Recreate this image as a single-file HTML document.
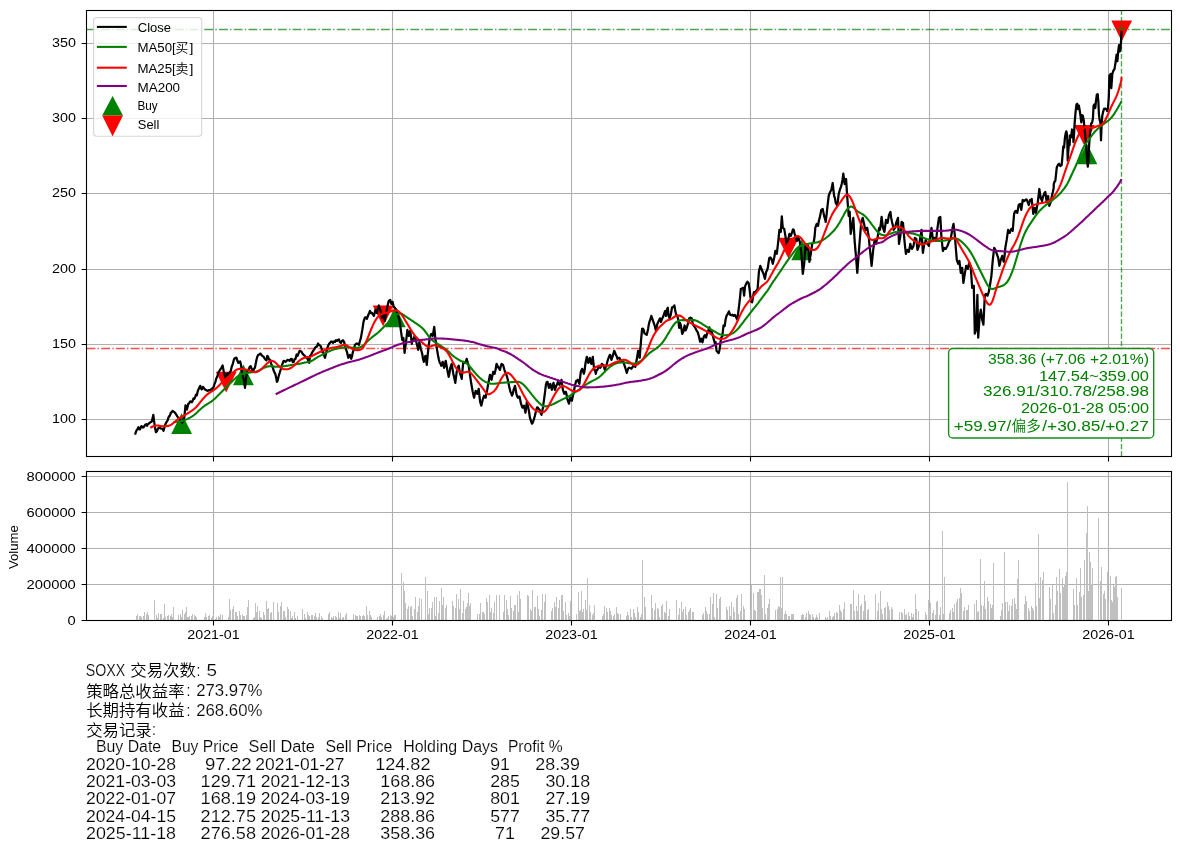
<!DOCTYPE html>
<html><head><meta charset="utf-8"><title>SOXX</title>
<style>html,body{margin:0;padding:0;background:#fff;}svg text.l{stroke:#fff;stroke-width:0.16px;}svg{display:block;will-change:transform;font-family:'Liberation Sans','Noto Sans CJK SC',sans-serif;}</style>
</head><body>
<svg width="1180" height="852" viewBox="0 0 1180 852">
<rect width="1180" height="852" fill="#fff"/>
<defs><clipPath id="c1"><rect x="86.5" y="10.5" width="1085.0" height="446.0"/></clipPath>
<clipPath id="c2"><rect x="86.5" y="471.5" width="1085.0" height="149.0"/></clipPath></defs>
<path d="M213.5,10.5 V456.5 M392.5,10.5 V456.5 M571.5,10.5 V456.5 M750.5,10.5 V456.5 M929.5,10.5 V456.5 M1108.5,10.5 V456.5 M86.5,419.5 H1171.5 M86.5,344.5 H1171.5 M86.5,269.5 H1171.5 M86.5,193.5 H1171.5 M86.5,118.5 H1171.5 M86.5,43.5 H1171.5" stroke="#b0b0b0" stroke-width="1.1" fill="none"/>
<g clip-path="url(#c1)">
<path d="M181.6,413.3 L171.2,434.1 L192.0,434.1 Z" fill="#008000"/>
<path d="M243.4,364.4 L233.0,385.2 L253.8,385.2 Z" fill="#008000"/>
<path d="M395.3,306.5 L384.9,327.3 L405.7,327.3 Z" fill="#008000"/>
<path d="M801.7,239.5 L791.3,260.3 L812.1,260.3 Z" fill="#008000"/>
<path d="M1086.9,143.5 L1076.5,164.3 L1097.3,164.3 Z" fill="#008000"/>
<path d="M226.2,392.6 L215.8,371.8 L236.6,371.8 Z" fill="#ff0000"/>
<path d="M383.1,326.3 L372.7,305.5 L393.5,305.5 Z" fill="#ff0000"/>
<path d="M788.4,258.6 L778.0,237.8 L798.8,237.8 Z" fill="#ff0000"/>
<path d="M1084.5,145.9 L1074.1,125.1 L1094.9,125.1 Z" fill="#ff0000"/>
<path d="M1121.7,41.3 L1111.3,20.5 L1132.1,20.5 Z" fill="#ff0000"/>
<path d="M86.5,29.5 H1171.5" stroke="#008000" stroke-opacity="0.7" stroke-width="1.39" stroke-dasharray="8.89 2.22 1.39 2.22" fill="none"/>
<path d="M86.5,348.5 H1171.5" stroke="#ff0000" stroke-opacity="0.7" stroke-width="1.39" stroke-dasharray="8.89 2.22 1.39 2.22" fill="none"/>
<path d="M1121.5,456.5 V10.5" stroke="#008000" stroke-opacity="0.7" stroke-width="1.39" stroke-dasharray="5.14 2.22" fill="none"/>
<path d="M135.0,434.7 L136.4,430.7 L137.4,429.1 L138.4,427.3 L139.2,429.3 L140.0,429.3 L140.8,427.0 L141.6,426.1 L142.6,427.5 L143.6,427.3 L144.6,425.7 L145.5,424.5 L146.3,424.2 L147.1,425.8 L147.9,424.1 L148.9,423.5 L149.9,422.7 L150.9,422.0 L151.9,421.3 L153.3,414.9 L154.3,422.7 L155.1,428.0 L155.9,432.1 L156.9,431.3 L157.9,428.7 L158.7,428.0 L159.5,427.3 L160.5,428.5 L161.5,428.7 L162.5,428.9 L163.5,430.7 L164.5,427.1 L165.5,424.1 L166.5,422.1 L167.5,420.7 L168.3,418.0 L169.1,416.2 L169.9,415.7 L170.8,412.8 L171.6,412.3 L172.5,410.9 L173.4,411.4 L174.3,412.1 L175.3,413.2 L176.3,414.7 L177.3,416.3 L178.3,417.7 L179.3,418.2 L180.3,420.7 L181.3,421.7 L182.3,422.7 L183.3,420.4 L184.3,417.7 L185.5,405.3 L186.9,409.7 L188.3,403.8 L189.1,403.4 L189.9,401.8 L190.9,401.3 L191.9,402.2 L192.7,400.7 L193.5,398.3 L194.3,398.8 L195.1,397.2 L196.0,394.7 L196.8,395.4 L197.8,390.9 L198.8,388.8 L200.2,385.8 L201.0,388.5 L201.8,389.4 L202.8,386.8 L203.8,387.8 L204.8,389.4 L205.8,389.8 L206.8,390.5 L207.8,390.8 L208.6,390.2 L209.3,390.4 L210.1,390.2 L210.8,389.4 L211.7,389.7 L212.5,388.1 L213.4,387.8 L214.4,384.3 L215.4,381.8 L216.4,378.3 L217.4,375.8 L218.4,372.5 L219.4,370.8 L220.4,369.3 L221.4,367.8 L222.6,365.4 L223.8,371.8 L224.6,374.2 L225.4,377.8 L226.2,376.7 L227.0,373.8 L227.9,373.3 L228.8,375.8 L229.8,372.4 L230.8,370.8 L231.8,366.6 L232.8,363.8 L234.2,358.8 L235.4,357.8 L236.4,357.7 L237.4,360.8 L238.4,362.9 L239.4,361.8 L240.2,361.4 L241.0,364.8 L242.2,373.8 L243.0,376.6 L243.8,379.8 L245.0,387.8 L246.1,377.8 L246.9,373.4 L247.7,369.8 L248.7,369.6 L249.7,366.8 L250.7,366.2 L251.7,368.8 L252.5,370.7 L253.3,370.8 L254.1,368.7 L254.9,367.8 L255.7,363.7 L256.5,359.8 L257.3,356.8 L258.1,354.9 L258.9,354.9 L259.7,353.9 L260.7,353.7 L261.7,355.4 L262.7,356.1 L263.7,356.8 L264.7,358.6 L265.7,359.8 L266.5,360.3 L267.3,355.9 L268.1,356.8 L269.1,359.6 L270.1,359.8 L271.1,363.6 L272.1,365.8 L272.9,367.9 L273.7,370.8 L274.5,372.6 L275.3,373.8 L276.1,377.4 L276.9,381.8 L277.7,380.6 L278.5,376.8 L279.7,372.8 L280.7,369.5 L281.7,365.8 L282.7,363.2 L283.7,360.8 L284.7,361.2 L285.7,361.8 L286.7,360.7 L287.7,359.8 L288.7,360.2 L289.7,360.8 L290.7,359.1 L291.7,358.8 L292.7,362.0 L293.7,361.8 L294.7,358.8 L295.6,358.8 L296.6,354.5 L297.6,355.8 L298.6,353.3 L299.6,350.9 L300.6,351.2 L301.6,351.9 L302.6,353.7 L303.6,354.9 L304.6,355.7 L305.6,356.8 L306.6,357.7 L307.6,358.8 L308.4,361.1 L309.2,362.8 L310.0,355.8 L311.0,355.1 L312.0,352.8 L313.0,351.0 L314.0,349.8 L315.0,348.0 L316.0,346.8 L317.0,346.7 L318.0,343.5 L319.0,344.9 L320.0,345.4 L320.8,346.4 L321.6,348.8 L322.4,352.2 L323.2,351.8 L324.1,355.5 L325.0,357.8 L326.0,353.4 L327.0,349.8 L328.0,345.9 L329.0,343.9 L330.0,342.9 L331.0,341.5 L332.0,341.5 L333.0,342.9 L334.0,341.5 L335.0,341.9 L335.9,340.3 L336.9,340.9 L337.9,339.8 L338.9,339.5 L339.9,342.0 L340.9,342.9 L341.9,341.2 L342.9,340.3 L343.9,341.4 L344.9,344.9 L345.9,348.9 L346.9,351.8 L348.3,357.8 L349.1,356.4 L349.9,354.8 L351.3,358.8 L352.1,356.0 L352.9,351.8 L353.9,349.3 L354.9,344.9 L355.9,344.0 L356.9,343.5 L357.9,344.0 L358.9,344.9 L359.9,341.3 L360.9,337.9 L362.3,329.9 L363.5,321.9 L364.9,317.5 L365.9,317.3 L366.9,318.9 L368.3,314.9 L369.1,313.4 L369.9,310.9 L370.9,313.0 L371.9,312.9 L372.9,314.6 L373.9,315.9 L374.7,312.7 L375.5,309.9 L376.9,312.9 L377.9,309.0 L378.9,305.5 L380.3,309.9 L381.1,313.3 L381.9,317.9 L382.7,315.8 L383.5,314.9 L384.9,320.9 L385.8,315.1 L386.8,309.9 L387.8,304.8 L388.8,300.9 L390.2,299.9 L391.4,303.9 L392.6,301.9 L393.8,306.9 L394.6,307.6 L395.4,308.9 L396.4,309.7 L397.4,312.9 L398.4,316.7 L399.4,319.9 L400.8,329.9 L402.2,339.9 L403.4,337.9 L404.6,352.8 L405.8,343.9 L406.6,336.9 L407.4,329.9 L408.8,335.9 L410.2,330.9 L411.0,336.4 L411.8,343.9 L412.6,339.5 L413.4,338.9 L414.8,335.9 L415.8,339.9 L416.8,343.9 L418.2,349.8 L419.4,341.9 L420.8,348.8 L422.2,353.8 L423.0,358.7 L423.8,361.8 L424.6,358.2 L425.4,355.8 L426.8,364.8 L428.2,349.8 L429.0,343.5 L429.8,337.9 L430.6,335.4 L431.4,333.9 L432.8,335.9 L434.2,326.9 L435.3,337.9 L436.7,347.8 L438.1,355.8 L438.9,359.8 L439.7,362.8 L440.5,363.6 L441.3,365.8 L442.7,361.8 L444.1,367.8 L444.9,365.1 L445.7,360.8 L446.5,365.1 L447.3,369.8 L448.7,376.8 L449.5,373.0 L450.3,367.8 L451.7,363.8 L452.5,368.8 L453.3,373.8 L454.3,378.1 L455.3,382.8 L456.7,371.8 L457.7,367.6 L458.7,365.8 L460.1,373.8 L460.9,375.7 L461.7,378.8 L462.5,370.1 L463.3,361.8 L464.3,362.8 L465.3,362.8 L466.7,358.8 L467.7,362.5 L468.7,365.8 L470.1,375.8 L471.3,383.8 L472.7,391.8 L474.1,397.7 L474.9,393.7 L475.7,390.8 L476.5,392.6 L477.3,393.8 L478.7,388.8 L480.1,401.7 L481.3,405.7 L482.7,399.7 L484.1,395.7 L484.9,397.5 L485.6,397.7 L486.4,393.6 L487.2,389.8 L488.6,381.8 L490.0,374.8 L490.8,376.9 L491.6,379.8 L492.4,375.5 L493.2,371.8 L494.6,373.8 L495.6,369.5 L496.6,363.8 L497.6,366.2 L498.6,367.8 L500.0,369.8 L500.8,366.1 L501.6,363.8 L503.0,364.8 L504.4,369.8 L505.2,372.1 L506.0,373.8 L506.8,375.9 L507.6,378.8 L509.0,385.8 L510.4,391.8 L511.2,393.2 L512.0,395.7 L512.8,393.7 L513.6,389.8 L515.0,385.8 L516.4,393.8 L517.2,396.4 L518.0,397.7 L518.8,396.7 L519.6,396.7 L521.0,403.7 L522.4,407.7 L523.2,406.8 L524.0,405.7 L524.8,409.6 L525.5,412.7 L526.9,401.7 L528.3,407.7 L529.1,412.2 L529.9,417.7 L530.9,420.6 L531.9,423.7 L532.7,422.7 L533.5,420.7 L534.9,415.7 L536.3,409.7 L537.1,407.3 L537.9,407.7 L538.7,409.0 L539.5,409.7 L540.5,412.8 L541.5,414.7 L542.9,407.7 L544.3,397.7 L545.1,391.7 L545.9,384.8 L546.7,382.2 L547.5,381.8 L548.9,387.8 L550.3,383.8 L551.1,387.0 L551.9,389.8 L552.7,385.6 L553.5,382.8 L554.9,389.8 L556.3,385.8 L557.1,384.2 L557.9,381.8 L558.7,383.8 L559.5,384.8 L560.5,382.4 L561.5,379.8 L562.9,389.8 L564.3,393.8 L565.1,392.1 L565.9,391.8 L566.7,395.3 L567.5,399.7 L568.9,403.7 L570.3,397.7 L571.1,399.9 L571.9,400.7 L572.7,396.5 L573.5,393.8 L574.9,385.8 L576.2,380.8 L577.0,380.7 L577.8,379.8 L578.6,382.2 L579.4,383.8 L580.8,371.8 L582.2,368.8 L583.0,371.1 L583.8,373.8 L584.6,370.7 L585.4,363.8 L586.8,356.8 L588.2,362.8 L589.0,360.4 L589.8,357.8 L590.6,362.5 L591.4,363.8 L592.8,356.8 L594.2,369.8 L595.0,370.2 L595.8,373.8 L596.6,370.0 L597.4,369.8 L598.8,365.8 L600.2,367.8 L601.0,366.6 L601.8,363.8 L602.6,364.8 L603.4,364.8 L604.8,369.8 L605.8,366.6 L606.8,363.8 L608.2,358.8 L609.0,356.8 L609.8,354.8 L610.6,355.8 L611.4,359.8 L612.8,355.8 L614.2,350.8 L615.0,352.3 L615.8,354.8 L616.6,356.0 L617.4,358.8 L618.4,358.1 L619.4,357.8 L620.4,360.0 L621.4,360.8 L622.4,361.4 L623.4,361.8 L624.4,365.1 L625.3,367.8 L626.7,372.8 L628.1,368.8 L628.9,367.7 L629.7,367.8 L630.5,368.0 L631.3,368.8 L632.3,367.4 L633.3,365.8 L634.3,366.1 L635.3,366.8 L636.7,359.8 L638.1,350.8 L638.9,355.3 L639.7,357.8 L640.9,341.9 L642.1,328.9 L642.9,328.7 L643.7,329.9 L644.5,333.4 L645.3,333.9 L646.7,334.9 L648.1,328.9 L648.9,324.1 L649.7,320.9 L650.5,319.3 L651.3,315.9 L652.7,319.9 L654.1,323.9 L654.9,326.3 L655.7,329.9 L656.5,328.2 L657.3,323.9 L658.7,320.9 L660.0,318.3 L661.0,321.9 L661.8,319.5 L663.0,317.1 L664.2,313.5 L665.0,311.1 L666.0,315.9 L666.9,309.3 L667.8,307.8 L668.6,315.9 L669.6,318.3 L670.8,314.7 L672.0,307.5 L673.2,306.9 L674.4,305.4 L675.3,311.1 L676.2,314.7 L677.4,315.9 L678.2,319.5 L679.2,327.9 L680.1,323.1 L681.0,326.1 L682.2,333.9 L683.4,331.5 L684.6,325.5 L685.7,330.3 L686.9,327.3 L688.1,323.1 L689.3,318.3 L690.5,317.7 L691.7,318.3 L692.9,324.3 L694.1,326.1 L695.3,327.9 L696.5,330.3 L697.7,332.1 L698.9,336.3 L700.1,341.7 L701.3,338.7 L702.5,342.3 L703.7,336.9 L704.9,335.1 L706.1,337.5 L707.3,332.7 L708.5,330.3 L709.3,327.3 L710.3,331.5 L711.5,330.9 L712.7,335.1 L713.9,339.9 L714.9,343.5 L715.7,342.3 L716.5,350.7 L717.5,351.9 L718.7,353.1 L719.6,349.5 L720.5,342.3 L721.3,337.5 L722.3,336.3 L723.5,325.5 L724.7,326.1 L725.6,319.5 L726.5,315.9 L727.7,314.1 L728.9,311.4 L730.1,314.7 L731.3,315.3 L732.5,314.7 L733.7,315.9 L734.9,315.0 L736.0,317.1 L737.2,319.5 L738.1,313.5 L739.0,306.3 L740.0,298.0 L740.8,289.0 L742.0,288.4 L743.2,287.8 L744.1,295.6 L745.0,286.6 L746.2,283.6 L747.4,281.8 L748.6,283.0 L749.6,289.6 L750.4,296.8 L751.3,301.6 L752.2,302.2 L753.2,295.6 L754.0,292.0 L755.2,292.0 L756.4,290.8 L757.6,289.0 L758.9,271.8 L760.3,265.8 L761.1,267.9 L761.9,269.8 L762.7,272.1 L763.5,273.8 L764.9,278.8 L766.2,271.8 L767.0,270.4 L767.8,267.8 L768.6,262.3 L769.4,257.8 L770.4,257.5 L771.4,258.8 L772.8,263.8 L774.2,257.8 L775.4,250.8 L776.8,253.8 L778.2,241.9 L779.4,229.9 L780.8,231.9 L781.8,216.3 L782.8,227.9 L784.2,228.9 L785.4,235.9 L786.8,245.8 L788.2,239.9 L789.4,233.9 L790.8,235.9 L792.2,231.9 L793.0,229.3 L793.8,229.9 L794.6,233.9 L795.4,235.9 L796.8,240.9 L798.2,237.9 L799.0,239.3 L799.8,241.9 L800.6,247.4 L801.4,253.8 L802.8,273.8 L804.2,263.8 L805.4,245.8 L806.8,249.8 L808.2,245.8 L809.4,261.8 L810.8,253.8 L812.2,243.9 L813.0,242.8 L813.8,241.9 L814.6,236.5 L815.3,227.9 L816.7,223.9 L818.1,225.9 L818.9,220.5 L819.7,217.9 L820.5,214.1 L821.3,209.9 L822.7,208.9 L824.1,215.9 L824.9,218.6 L825.7,221.9 L826.5,215.3 L827.3,207.9 L828.7,195.9 L830.1,192.0 L831.3,190.0 L832.7,183.0 L834.1,195.9 L834.9,198.0 L835.7,202.9 L836.5,204.1 L837.3,205.9 L838.7,194.0 L840.1,189.0 L840.9,187.1 L841.7,184.0 L842.5,180.0 L843.3,173.6 L844.7,184.0 L846.1,179.0 L847.3,197.9 L848.7,215.9 L849.7,211.9 L850.7,233.9 L852.1,225.9 L853.3,217.9 L854.7,241.9 L856.1,257.8 L857.3,272.8 L858.7,253.8 L860.1,235.9 L861.3,221.9 L862.7,217.9 L864.1,223.9 L864.9,228.2 L865.6,229.9 L866.4,228.2 L867.2,227.9 L868.6,235.9 L870.0,249.8 L870.8,257.9 L871.6,265.8 L872.4,257.7 L873.2,249.8 L874.6,239.9 L876.0,243.9 L876.8,239.8 L877.6,237.9 L878.4,231.7 L879.2,227.9 L880.0,229.9 L880.8,224.0 L881.6,216.9 L883.0,227.9 L884.4,231.9 L885.2,226.1 L886.0,219.9 L886.8,221.3 L887.6,222.9 L889.0,214.9 L890.4,211.9 L891.2,217.9 L892.0,221.9 L892.8,225.1 L893.6,229.9 L895.0,227.9 L896.4,221.9 L897.2,220.3 L898.0,217.9 L899.0,243.9 L900.4,235.9 L901.6,221.9 L903.0,222.9 L904.4,239.9 L905.1,246.9 L905.9,253.9 L906.7,251.8 L907.5,249.9 L908.9,251.9 L910.3,243.9 L911.1,246.8 L911.9,248.9 L912.7,247.5 L913.5,245.9 L914.9,237.9 L916.3,238.9 L917.5,249.9 L918.9,245.9 L919.9,239.9 L920.7,235.1 L921.5,229.9 L922.9,252.9 L924.3,243.9 L925.1,242.1 L925.9,239.9 L926.7,243.4 L927.5,243.9 L928.9,245.9 L930.3,235.9 L931.5,227.9 L932.9,239.9 L934.3,237.9 L935.1,239.1 L935.9,240.9 L936.7,235.2 L937.5,227.9 L938.9,217.9 L940.3,216.9 L941.5,237.9 L942.9,250.9 L944.3,247.9 L945.1,248.8 L945.9,248.9 L946.7,247.1 L947.5,245.9 L948.9,241.9 L950.3,239.9 L951.1,236.5 L951.9,231.9 L952.7,227.2 L953.5,223.9 L954.9,235.9 L955.8,247.9 L956.8,259.8 L958.2,263.8 L959.4,260.8 L960.8,272.8 L962.2,267.8 L963.4,282.8 L964.8,273.8 L966.2,265.8 L967.0,268.3 L967.8,268.8 L968.6,265.2 L969.4,262.8 L970.8,267.8 L972.2,287.8 L973.0,286.4 L973.8,285.8 L974.8,333.7 L976.2,329.7 L977.4,294.8 L978.2,337.7 L979.4,319.7 L980.8,309.7 L982.2,319.7 L983.4,324.7 L984.8,295.8 L985.8,293.8 L986.6,295.0 L987.4,295.8 L988.8,291.8 L990.2,283.8 L991.4,275.8 L992.8,259.8 L994.2,247.9 L995.4,249.9 L996.8,253.9 L998.2,257.8 L999.4,265.8 L1000.8,259.8 L1002.2,255.8 L1003.0,259.5 L1003.8,261.8 L1004.6,255.6 L1005.3,247.9 L1006.7,239.9 L1008.1,229.9 L1008.9,232.1 L1009.7,232.9 L1010.5,230.7 L1011.3,228.9 L1012.7,230.9 L1014.1,213.9 L1014.9,211.7 L1015.7,210.9 L1016.5,212.4 L1017.3,212.9 L1018.7,205.0 L1020.1,204.0 L1021.3,209.9 L1022.7,200.0 L1024.1,201.0 L1024.9,200.5 L1025.7,199.6 L1026.5,199.5 L1027.3,201.0 L1028.7,205.0 L1030.1,200.0 L1030.9,200.2 L1031.7,199.0 L1032.5,206.6 L1033.3,213.9 L1034.7,207.9 L1036.1,212.9 L1036.9,207.2 L1037.7,203.0 L1038.5,196.3 L1039.3,189.0 L1040.7,198.0 L1042.1,201.0 L1042.9,196.9 L1043.7,195.0 L1044.5,192.8 L1045.3,192.0 L1046.7,202.0 L1048.1,196.0 L1049.3,205.9 L1050.7,202.0 L1052.1,195.0 L1052.9,191.8 L1053.7,188.0 L1053.7,184.6 L1054.5,181.6 L1055.3,181.0 L1056.1,173.8 L1056.7,167.8 L1057.9,164.9 L1059.1,163.7 L1060.3,166.0 L1061.7,164.9 L1062.7,153.5 L1063.3,146.3 L1064.1,147.5 L1064.9,137.9 L1065.7,133.1 L1066.3,131.3 L1067.2,135.5 L1067.7,160.7 L1068.4,149.9 L1068.9,140.3 L1069.6,145.1 L1070.1,135.5 L1071.1,137.3 L1072.0,129.5 L1072.9,131.9 L1073.5,142.1 L1074.1,133.1 L1074.7,122.3 L1075.6,111.6 L1076.5,104.4 L1077.3,103.8 L1078.0,109.2 L1078.9,105.6 L1079.7,110.4 L1080.4,115.1 L1081.3,122.3 L1081.9,115.1 L1082.8,115.7 L1083.7,119.9 L1084.3,125.9 L1084.9,131.9 L1085.7,140.3 L1086.4,149.9 L1087.2,160.7 L1087.8,166.6 L1088.4,161.9 L1089.0,147.5 L1089.6,137.9 L1090.5,129.5 L1091.2,123.5 L1092.0,122.9 L1092.9,118.7 L1093.6,105.6 L1094.4,104.4 L1095.3,108.0 L1096.0,100.8 L1096.8,94.8 L1097.7,94.2 L1098.4,102.0 L1098.9,114.0 L1099.6,119.9 L1100.4,122.3 L1101.0,140.3 L1101.6,124.7 L1102.2,116.3 L1103.2,111.6 L1104.0,108.9 L1105.2,108.6 L1106.4,109.2 L1107.2,111.0 L1108.0,108.0 L1108.8,97.2 L1109.4,75.5 L1110.7,73.9 L1111.3,88.2 L1112.3,73.9 L1113.4,70.7 L1114.5,69.1 L1115.5,62.7 L1116.6,54.7 L1117.4,61.1 L1118.2,51.5 L1119.0,45.1 L1119.8,51.5 L1120.6,48.3 L1121.2,37.9 L1121.6,30.9" stroke="#000" stroke-width="2.25" fill="none" stroke-linejoin="round"/>
<path d="M173.5,422.1 L174.5,422.0 L175.5,421.9 L176.5,421.8 L177.5,421.7 L178.5,421.6 L179.5,421.4 L180.5,421.3 L181.5,421.1 L182.5,420.9 L183.5,420.6 L184.5,420.3 L185.5,419.9 L186.5,419.4 L187.5,418.9 L188.5,418.4 L189.5,417.9 L190.5,417.4 L191.5,416.8 L192.5,416.2 L193.5,415.5 L194.5,414.7 L195.5,413.9 L196.5,413.0 L197.5,412.1 L198.5,411.1 L199.5,410.1 L200.5,409.2 L201.5,408.3 L202.5,407.4 L203.5,406.6 L204.5,405.9 L205.5,405.2 L206.5,404.6 L207.5,404.0 L208.5,403.3 L209.5,402.7 L210.5,402.1 L211.5,401.4 L212.5,400.6 L213.5,399.8 L214.5,398.9 L215.5,398.0 L216.5,397.0 L217.5,396.1 L218.5,395.1 L219.5,394.1 L220.5,393.1 L221.5,392.1 L222.5,391.1 L223.5,390.1 L224.5,389.1 L225.5,388.1 L226.5,387.1 L227.5,386.1 L228.5,385.1 L229.5,384.1 L230.5,383.1 L231.5,382.1 L232.5,381.1 L233.5,380.1 L234.5,379.1 L235.5,378.2 L236.5,377.4 L237.5,376.6 L238.5,375.8 L239.5,375.2 L240.5,374.7 L241.5,374.3 L242.5,373.9 L243.5,373.6 L244.5,373.4 L245.5,373.2 L246.5,373.0 L247.5,372.9 L248.5,372.7 L249.5,372.6 L250.5,372.4 L251.5,372.3 L252.5,372.2 L253.5,372.0 L254.5,371.9 L255.5,371.7 L256.5,371.4 L257.5,371.1 L258.5,370.7 L259.5,370.2 L260.5,369.7 L261.5,369.1 L262.5,368.6 L263.5,368.1 L264.5,367.6 L265.5,367.2 L266.5,366.8 L267.5,366.5 L268.5,366.4 L269.5,366.3 L270.5,366.3 L271.5,366.3 L272.5,366.4 L273.5,366.5 L274.5,366.6 L275.5,366.7 L276.5,366.8 L277.5,366.8 L278.5,366.8 L279.5,366.7 L280.5,366.7 L281.5,366.5 L282.5,366.4 L283.5,366.3 L284.5,366.2 L285.5,366.0 L286.5,365.9 L287.5,365.8 L288.5,365.6 L289.5,365.4 L290.5,365.1 L291.5,364.9 L292.5,364.7 L293.5,364.6 L294.5,364.4 L295.5,364.3 L296.5,364.2 L297.5,364.0 L298.5,363.9 L299.5,363.8 L300.5,363.6 L301.5,363.4 L302.5,363.1 L303.5,362.9 L304.5,362.6 L305.5,362.4 L306.5,362.2 L307.5,362.1 L308.5,362.0 L309.5,361.8 L310.5,361.5 L311.5,361.0 L312.5,360.4 L313.5,359.8 L314.5,359.1 L315.5,358.5 L316.5,357.8 L317.5,357.2 L318.5,356.6 L319.5,356.1 L320.5,355.6 L321.5,355.1 L322.5,354.6 L323.5,354.1 L324.5,353.6 L325.5,353.1 L326.5,352.6 L327.5,352.1 L328.5,351.6 L329.5,351.1 L330.5,350.7 L331.5,350.3 L332.5,350.0 L333.5,349.6 L334.5,349.3 L335.5,349.0 L336.5,348.7 L337.5,348.4 L338.5,348.2 L339.5,348.0 L340.5,347.8 L341.5,347.6 L342.5,347.5 L343.5,347.5 L344.5,347.5 L345.5,347.4 L346.5,347.4 L347.5,347.4 L348.5,347.5 L349.5,347.5 L350.5,347.5 L351.5,347.6 L352.5,347.7 L353.5,347.8 L354.5,347.8 L355.5,347.8 L356.5,347.8 L357.5,347.7 L358.5,347.6 L359.5,347.4 L360.5,347.1 L361.5,346.6 L362.5,346.0 L363.5,345.1 L364.5,344.2 L365.5,343.2 L366.5,342.3 L367.5,341.3 L368.5,340.3 L369.5,339.4 L370.5,338.5 L371.5,337.7 L372.5,336.9 L373.5,336.2 L374.5,335.4 L375.5,334.6 L376.5,333.9 L377.5,333.0 L378.5,332.2 L379.5,331.2 L380.5,330.2 L381.5,329.2 L382.5,328.2 L383.5,327.2 L384.5,326.2 L385.5,325.2 L386.5,324.2 L387.5,323.2 L388.5,322.2 L389.5,321.2 L390.5,320.2 L391.5,319.2 L392.5,318.2 L393.5,317.3 L394.5,316.3 L395.5,315.4 L396.5,314.6 L397.5,314.0 L398.5,313.6 L399.5,313.4 L400.5,313.5 L401.5,313.8 L402.5,314.3 L403.5,314.9 L404.5,315.6 L405.5,316.3 L406.5,317.0 L407.5,317.7 L408.5,318.4 L409.5,319.0 L410.5,319.7 L411.5,320.4 L412.5,321.0 L413.5,321.7 L414.5,322.4 L415.5,323.0 L416.5,323.7 L417.5,324.4 L418.5,325.1 L419.5,325.8 L420.5,326.5 L421.5,327.4 L422.5,328.3 L423.5,329.3 L424.5,330.5 L425.5,331.8 L426.5,333.2 L427.5,334.7 L428.5,336.1 L429.5,337.4 L430.5,338.5 L431.5,339.5 L432.5,340.4 L433.5,341.2 L434.5,341.9 L435.5,342.6 L436.5,343.2 L437.5,343.8 L438.5,344.4 L439.5,345.0 L440.5,345.7 L441.5,346.4 L442.5,347.0 L443.5,347.7 L444.5,348.4 L445.5,349.1 L446.5,349.9 L447.5,350.7 L448.5,351.6 L449.5,352.6 L450.5,353.6 L451.5,354.5 L452.5,355.4 L453.5,356.2 L454.5,357.0 L455.5,357.7 L456.5,358.3 L457.5,359.0 L458.5,359.6 L459.5,360.2 L460.5,360.7 L461.5,361.2 L462.5,361.6 L463.5,361.9 L464.5,362.3 L465.5,362.8 L466.5,363.3 L467.5,364.1 L468.5,365.0 L469.5,366.1 L470.5,367.3 L471.5,368.5 L472.5,369.8 L473.5,371.0 L474.5,372.3 L475.5,373.4 L476.5,374.5 L477.5,375.6 L478.5,376.6 L479.5,377.5 L480.5,378.4 L481.5,379.2 L482.5,380.0 L483.5,380.7 L484.5,381.3 L485.5,381.9 L486.5,382.4 L487.5,382.8 L488.5,383.2 L489.5,383.4 L490.5,383.6 L491.5,383.7 L492.5,383.7 L493.5,383.7 L494.5,383.7 L495.5,383.6 L496.5,383.5 L497.5,383.3 L498.5,383.2 L499.5,383.0 L500.5,382.9 L501.5,382.8 L502.5,382.8 L503.5,382.7 L504.5,382.6 L505.5,382.5 L506.5,382.4 L507.5,382.3 L508.5,382.2 L509.5,382.2 L510.5,382.2 L511.5,382.1 L512.5,382.1 L513.5,382.0 L514.5,381.9 L515.5,381.9 L516.5,381.8 L517.5,381.8 L518.5,381.9 L519.5,382.1 L520.5,382.5 L521.5,383.1 L522.5,383.8 L523.5,384.7 L524.5,385.7 L525.5,386.8 L526.5,388.0 L527.5,389.2 L528.5,390.4 L529.5,391.7 L530.5,392.9 L531.5,394.2 L532.5,395.4 L533.5,396.7 L534.5,397.9 L535.5,399.1 L536.5,400.2 L537.5,401.3 L538.5,402.3 L539.5,403.2 L540.5,404.1 L541.5,404.9 L542.5,405.5 L543.5,406.0 L544.5,406.3 L545.5,406.4 L546.5,406.3 L547.5,406.1 L548.5,405.8 L549.5,405.5 L550.5,405.2 L551.5,404.8 L552.5,404.4 L553.5,404.0 L554.5,403.5 L555.5,403.0 L556.5,402.5 L557.5,401.9 L558.5,401.4 L559.5,400.9 L560.5,400.4 L561.5,399.9 L562.5,399.4 L563.5,398.9 L564.5,398.4 L565.5,398.0 L566.5,397.5 L567.5,397.0 L568.5,396.4 L569.5,395.9 L570.5,395.3 L571.5,394.6 L572.5,394.0 L573.5,393.3 L574.5,392.7 L575.5,392.0 L576.5,391.3 L577.5,390.7 L578.5,390.0 L579.5,389.3 L580.5,388.6 L581.5,387.9 L582.5,387.2 L583.5,386.4 L584.5,385.7 L585.5,385.0 L586.5,384.3 L587.5,383.7 L588.5,383.1 L589.5,382.5 L590.5,382.0 L591.5,381.4 L592.5,380.9 L593.5,380.4 L594.5,379.9 L595.5,379.4 L596.5,378.8 L597.5,378.2 L598.5,377.6 L599.5,376.8 L600.5,376.0 L601.5,375.1 L602.5,374.1 L603.5,373.1 L604.5,372.1 L605.5,371.1 L606.5,370.1 L607.5,369.1 L608.5,368.2 L609.5,367.3 L610.5,366.5 L611.5,365.8 L612.5,365.1 L613.5,364.6 L614.5,364.1 L615.5,363.7 L616.5,363.3 L617.5,363.0 L618.5,362.8 L619.5,362.6 L620.5,362.5 L621.5,362.5 L622.5,362.5 L623.5,362.5 L624.5,362.6 L625.5,362.7 L626.5,362.8 L627.5,363.0 L628.5,363.2 L629.5,363.3 L630.5,363.5 L631.5,363.6 L632.5,363.6 L633.5,363.6 L634.5,363.5 L635.5,363.3 L636.5,363.0 L637.5,362.7 L638.5,362.3 L639.5,361.8 L640.5,361.3 L641.5,360.6 L642.5,359.9 L643.5,359.0 L644.5,358.0 L645.5,357.0 L646.5,356.0 L647.5,355.0 L648.5,354.1 L649.5,353.1 L650.5,352.3 L651.5,351.6 L652.5,350.9 L653.5,350.3 L654.5,349.7 L655.5,349.0 L656.5,348.2 L657.5,347.4 L658.5,346.6 L659.5,345.7 L660.5,344.7 L661.5,343.6 L662.5,342.5 L663.5,341.2 L664.5,339.7 L665.5,338.2 L666.5,336.5 L667.5,334.8 L668.5,333.1 L669.5,331.5 L670.5,329.8 L671.5,328.2 L672.5,326.7 L673.5,325.2 L674.5,323.9 L675.5,322.8 L676.5,321.9 L677.5,321.3 L678.5,320.8 L679.5,320.5 L680.5,320.3 L681.5,320.2 L682.5,320.1 L683.5,320.1 L684.5,320.1 L685.5,320.1 L686.5,320.1 L687.5,320.1 L688.5,320.0 L689.5,320.0 L690.5,319.9 L691.5,319.8 L692.5,319.9 L693.5,320.0 L694.5,320.1 L695.5,320.4 L696.5,320.7 L697.5,321.2 L698.5,321.7 L699.5,322.3 L700.5,322.9 L701.5,323.5 L702.5,324.2 L703.5,324.8 L704.5,325.5 L705.5,326.1 L706.5,326.7 L707.5,327.4 L708.5,328.0 L709.5,328.6 L710.5,329.1 L711.5,329.7 L712.5,330.2 L713.5,330.8 L714.5,331.4 L715.5,332.0 L716.5,332.6 L717.5,333.2 L718.5,333.7 L719.5,334.2 L720.5,334.5 L721.5,334.8 L722.5,335.0 L723.5,335.2 L724.5,335.2 L725.5,335.3 L726.5,335.2 L727.5,335.1 L728.5,335.0 L729.5,334.7 L730.5,334.4 L731.5,333.9 L732.5,333.4 L733.5,332.8 L734.5,332.1 L735.5,331.2 L736.5,330.3 L737.5,329.3 L738.5,328.2 L739.5,327.0 L740.5,325.7 L741.5,324.4 L742.5,323.1 L743.5,321.8 L744.5,320.4 L745.5,319.1 L746.5,317.9 L747.5,316.6 L748.5,315.3 L749.5,314.0 L750.5,312.6 L751.5,311.3 L752.5,310.0 L753.5,308.7 L754.5,307.6 L755.5,306.4 L756.5,305.1 L757.5,303.9 L758.5,302.6 L759.5,301.2 L760.5,299.9 L761.5,298.5 L762.5,297.2 L763.5,295.8 L764.5,294.5 L765.5,293.2 L766.5,291.9 L767.5,290.6 L768.5,289.1 L769.5,287.5 L770.5,285.9 L771.5,284.3 L772.5,282.7 L773.5,281.2 L774.5,279.8 L775.5,278.3 L776.5,276.9 L777.5,275.5 L778.5,274.0 L779.5,272.5 L780.5,271.1 L781.5,269.5 L782.5,268.0 L783.5,266.5 L784.5,265.0 L785.5,263.6 L786.5,262.1 L787.5,260.7 L788.5,259.3 L789.5,257.9 L790.5,256.6 L791.5,255.2 L792.5,253.9 L793.5,252.5 L794.5,251.2 L795.5,249.9 L796.5,248.7 L797.5,247.7 L798.5,247.0 L799.5,246.4 L800.5,246.0 L801.5,245.6 L802.5,245.3 L803.5,244.9 L804.5,244.7 L805.5,244.4 L806.5,244.1 L807.5,243.9 L808.5,243.7 L809.5,243.5 L810.5,243.4 L811.5,243.2 L812.5,243.0 L813.5,242.9 L814.5,242.7 L815.5,242.6 L816.5,242.4 L817.5,242.2 L818.5,241.9 L819.5,241.6 L820.5,241.2 L821.5,240.8 L822.5,240.3 L823.5,239.7 L824.5,239.0 L825.5,238.3 L826.5,237.5 L827.5,236.7 L828.5,235.9 L829.5,235.0 L830.5,234.0 L831.5,233.1 L832.5,232.0 L833.5,231.0 L834.5,229.8 L835.5,228.6 L836.5,227.3 L837.5,225.9 L838.5,224.3 L839.5,222.7 L840.5,220.9 L841.5,219.1 L842.5,217.2 L843.5,215.4 L844.5,213.5 L845.5,211.7 L846.5,210.2 L847.5,208.8 L848.5,207.8 L849.5,207.0 L850.5,206.6 L851.5,206.6 L852.5,206.9 L853.5,207.6 L854.5,208.5 L855.5,209.5 L856.5,210.4 L857.5,211.3 L858.5,212.0 L859.5,212.5 L860.5,213.1 L861.5,213.6 L862.5,214.2 L863.5,214.9 L864.5,215.7 L865.5,216.6 L866.5,217.7 L867.5,218.9 L868.5,220.1 L869.5,221.4 L870.5,222.7 L871.5,224.0 L872.5,225.4 L873.5,226.7 L874.5,228.0 L875.5,229.4 L876.5,230.7 L877.5,231.9 L878.5,233.0 L879.5,233.8 L880.5,234.3 L881.5,234.7 L882.5,235.1 L883.5,235.3 L884.5,235.4 L885.5,235.4 L886.5,235.2 L887.5,234.9 L888.5,234.5 L889.5,234.1 L890.5,233.7 L891.5,233.2 L892.5,232.9 L893.5,232.6 L894.5,232.3 L895.5,232.1 L896.5,232.0 L897.5,231.9 L898.5,231.9 L899.5,231.9 L900.5,232.0 L901.5,232.1 L902.5,232.2 L903.5,232.3 L904.5,232.4 L905.5,232.5 L906.5,232.7 L907.5,232.8 L908.5,233.0 L909.5,233.1 L910.5,233.3 L911.5,233.4 L912.5,233.6 L913.5,233.8 L914.5,234.0 L915.5,234.3 L916.5,234.6 L917.5,235.0 L918.5,235.3 L919.5,235.8 L920.5,236.2 L921.5,236.7 L922.5,237.2 L923.5,237.6 L924.5,238.1 L925.5,238.5 L926.5,238.9 L927.5,239.2 L928.5,239.5 L929.5,239.8 L930.5,240.0 L931.5,240.2 L932.5,240.3 L933.5,240.5 L934.5,240.6 L935.5,240.7 L936.5,240.8 L937.5,240.9 L938.5,240.9 L939.5,240.9 L940.5,240.9 L941.5,240.9 L942.5,240.8 L943.5,240.8 L944.5,240.6 L945.5,240.4 L946.5,240.2 L947.5,240.0 L948.5,239.7 L949.5,239.5 L950.5,239.2 L951.5,238.9 L952.5,238.7 L953.5,238.4 L954.5,238.3 L955.5,238.4 L956.5,238.6 L957.5,239.0 L958.5,239.5 L959.5,240.1 L960.5,240.8 L961.5,241.7 L962.5,242.6 L963.5,243.5 L964.5,244.6 L965.5,245.6 L966.5,246.7 L967.5,247.9 L968.5,249.2 L969.5,250.6 L970.5,252.1 L971.5,253.8 L972.5,255.5 L973.5,257.3 L974.5,259.2 L975.5,261.2 L976.5,263.2 L977.5,265.2 L978.5,267.2 L979.5,269.2 L980.5,271.2 L981.5,273.2 L982.5,275.2 L983.5,277.2 L984.5,279.2 L985.5,281.2 L986.5,283.1 L987.5,284.9 L988.5,286.4 L989.5,287.6 L990.5,288.4 L991.5,288.8 L992.5,288.9 L993.5,288.7 L994.5,288.4 L995.5,288.0 L996.5,287.6 L997.5,287.3 L998.5,286.9 L999.5,286.7 L1000.5,286.4 L1001.5,286.1 L1002.5,285.7 L1003.5,285.2 L1004.5,284.6 L1005.5,283.8 L1006.5,282.8 L1007.5,281.5 L1008.5,279.9 L1009.5,278.1 L1010.5,275.9 L1011.5,273.5 L1012.5,270.9 L1013.5,268.1 L1014.5,265.0 L1015.5,261.8 L1016.5,258.4 L1017.5,255.0 L1018.5,251.5 L1019.5,248.1 L1020.5,244.8 L1021.5,241.8 L1022.5,238.9 L1023.5,236.3 L1024.5,233.9 L1025.5,231.8 L1026.5,229.8 L1027.5,228.0 L1028.5,226.4 L1029.5,224.8 L1030.5,223.3 L1031.5,221.8 L1032.5,220.3 L1033.5,218.8 L1034.5,217.3 L1035.5,215.9 L1036.5,214.6 L1037.5,213.3 L1038.5,212.1 L1039.5,211.0 L1040.5,209.9 L1041.5,208.9 L1042.5,208.0 L1043.5,207.1 L1044.5,206.2 L1045.5,205.4 L1046.5,204.6 L1047.5,203.9 L1048.5,203.1 L1049.5,202.4 L1050.5,201.6 L1051.5,200.9 L1052.5,200.1 L1053.5,199.3 L1054.5,198.5 L1055.5,197.7 L1056.5,196.8 L1057.5,195.9 L1058.5,195.0 L1059.5,194.1 L1060.5,193.0 L1061.5,191.9 L1062.5,190.7 L1063.5,189.4 L1064.5,188.1 L1065.5,186.7 L1066.5,185.1 L1067.5,183.5 L1068.5,181.6 L1069.5,179.5 L1070.5,177.3 L1071.5,175.0 L1072.5,172.9 L1073.5,170.8 L1074.5,168.7 L1075.5,166.5 L1076.5,164.2 L1077.5,161.8 L1078.5,159.4 L1079.5,156.9 L1080.5,154.3 L1081.5,151.8 L1082.5,149.5 L1083.5,147.5 L1084.5,145.6 L1085.5,144.0 L1086.5,142.6 L1087.5,141.3 L1088.5,140.1 L1089.5,138.8 L1090.5,137.4 L1091.5,136.0 L1092.5,134.6 L1093.5,133.3 L1094.5,132.0 L1095.5,130.9 L1096.5,129.9 L1097.5,128.9 L1098.5,128.0 L1099.5,127.1 L1100.5,126.3 L1101.5,125.6 L1102.5,124.8 L1103.5,124.1 L1104.5,123.3 L1105.5,122.6 L1106.5,121.9 L1107.5,121.2 L1108.5,120.5 L1109.5,119.6 L1110.5,118.6 L1111.5,117.5 L1112.5,116.2 L1113.5,114.9 L1114.5,113.4 L1115.5,111.8 L1116.5,110.2 L1117.5,108.5 L1118.5,106.7 L1119.5,105.0 L1120.5,103.2 L1121.4,101.4" stroke="#008000" stroke-width="2.08" fill="none" stroke-linejoin="round"/>
<path d="M150.3,427.7 L151.3,427.2 L152.3,426.7 L153.3,426.2 L154.3,425.9 L155.3,425.7 L156.3,425.5 L157.3,425.5 L158.3,425.6 L159.3,425.7 L160.3,425.9 L161.3,426.1 L162.3,426.2 L163.3,426.3 L164.3,426.3 L165.3,426.2 L166.3,426.2 L167.3,426.0 L168.3,425.9 L169.3,425.6 L170.3,425.2 L171.3,424.6 L172.3,423.9 L173.3,423.1 L174.3,422.2 L175.3,421.4 L176.3,420.5 L177.3,419.7 L178.3,418.9 L179.3,418.2 L180.3,417.6 L181.3,417.0 L182.3,416.5 L183.3,416.0 L184.3,415.4 L185.3,414.8 L186.3,414.2 L187.3,413.6 L188.3,413.0 L189.3,412.4 L190.3,411.7 L191.3,411.0 L192.3,410.3 L193.3,409.6 L194.3,408.8 L195.3,407.9 L196.3,406.9 L197.3,405.8 L198.3,404.6 L199.3,403.4 L200.3,402.1 L201.3,400.9 L202.3,399.7 L203.3,398.5 L204.3,397.4 L205.3,396.3 L206.3,395.3 L207.3,394.4 L208.3,393.6 L209.3,392.9 L210.3,392.3 L211.3,391.6 L212.3,391.0 L213.3,390.4 L214.3,389.7 L215.3,388.9 L216.3,388.1 L217.3,387.2 L218.3,386.2 L219.3,385.2 L220.3,384.3 L221.3,383.3 L222.3,382.3 L223.3,381.3 L224.3,380.4 L225.3,379.5 L226.3,378.6 L227.3,377.8 L228.3,376.9 L229.3,376.0 L230.3,375.1 L231.3,374.2 L232.3,373.2 L233.3,372.3 L234.3,371.4 L235.3,370.6 L236.3,369.9 L237.3,369.4 L238.3,369.1 L239.3,368.9 L240.3,368.9 L241.3,368.9 L242.3,369.0 L243.3,369.1 L244.3,369.3 L245.3,369.5 L246.3,369.7 L247.3,370.0 L248.3,370.3 L249.3,370.7 L250.3,371.0 L251.3,371.4 L252.3,371.7 L253.3,371.9 L254.3,372.1 L255.3,372.1 L256.3,372.0 L257.3,371.7 L258.3,371.3 L259.3,370.7 L260.3,370.0 L261.3,369.1 L262.3,368.2 L263.3,367.2 L264.3,366.2 L265.3,365.2 L266.3,364.2 L267.3,363.3 L268.3,362.4 L269.3,361.7 L270.3,361.2 L271.3,360.9 L272.3,360.9 L273.3,361.2 L274.3,361.7 L275.3,362.4 L276.3,363.4 L277.3,364.4 L278.3,365.4 L279.3,366.4 L280.3,367.2 L281.3,368.0 L282.3,368.6 L283.3,369.0 L284.3,369.2 L285.3,369.3 L286.3,369.3 L287.3,369.2 L288.3,369.0 L289.3,368.7 L290.3,368.2 L291.3,367.7 L292.3,367.0 L293.3,366.2 L294.3,365.4 L295.3,364.5 L296.3,363.5 L297.3,362.6 L298.3,361.6 L299.3,360.7 L300.3,360.0 L301.3,359.3 L302.3,358.7 L303.3,358.2 L304.3,357.8 L305.3,357.5 L306.3,357.3 L307.3,357.1 L308.3,357.1 L309.3,357.0 L310.3,356.8 L311.3,356.4 L312.3,355.9 L313.3,355.3 L314.3,354.7 L315.3,354.2 L316.3,353.7 L317.3,353.2 L318.3,352.7 L319.3,352.2 L320.3,351.7 L321.3,351.3 L322.3,350.9 L323.3,350.5 L324.3,350.2 L325.3,349.9 L326.3,349.6 L327.3,349.3 L328.3,348.9 L329.3,348.6 L330.3,348.3 L331.3,348.0 L332.3,347.8 L333.3,347.6 L334.3,347.4 L335.3,347.2 L336.3,347.1 L337.3,346.9 L338.3,346.6 L339.3,346.3 L340.3,346.0 L341.3,345.6 L342.3,345.3 L343.3,345.0 L344.3,344.9 L345.3,344.9 L346.3,345.2 L347.3,345.7 L348.3,346.3 L349.3,347.0 L350.3,347.7 L351.3,348.3 L352.3,348.9 L353.3,349.3 L354.3,349.7 L355.3,349.9 L356.3,350.0 L357.3,350.1 L358.3,350.1 L359.3,350.0 L360.3,349.8 L361.3,349.2 L362.3,348.4 L363.3,347.1 L364.3,345.4 L365.3,343.5 L366.3,341.3 L367.3,339.0 L368.3,336.5 L369.3,334.0 L370.3,331.4 L371.3,329.0 L372.3,326.6 L373.3,324.4 L374.3,322.4 L375.3,320.6 L376.3,319.0 L377.3,317.6 L378.3,316.4 L379.3,315.4 L380.3,314.6 L381.3,314.1 L382.3,313.7 L383.3,313.5 L384.3,313.2 L385.3,313.0 L386.3,312.8 L387.3,312.6 L388.3,312.3 L389.3,312.0 L390.3,311.6 L391.3,311.2 L392.3,310.8 L393.3,310.5 L394.3,310.3 L395.3,310.3 L396.3,310.4 L397.3,310.7 L398.3,311.2 L399.3,312.0 L400.3,312.9 L401.3,314.2 L402.3,315.6 L403.3,317.2 L404.3,318.8 L405.3,320.5 L406.3,322.1 L407.3,323.8 L408.3,325.4 L409.3,327.1 L410.3,328.8 L411.3,330.4 L412.3,332.0 L413.3,333.4 L414.3,334.8 L415.3,336.1 L416.3,337.3 L417.3,338.3 L418.3,339.3 L419.3,340.1 L420.3,340.9 L421.3,341.7 L422.3,342.5 L423.3,343.4 L424.3,344.3 L425.3,345.1 L426.3,345.7 L427.3,346.2 L428.3,346.5 L429.3,346.6 L430.3,346.5 L431.3,346.2 L432.3,345.8 L433.3,345.5 L434.3,345.3 L435.3,345.3 L436.3,345.5 L437.3,345.8 L438.3,346.2 L439.3,346.7 L440.3,347.1 L441.3,347.6 L442.3,348.1 L443.3,348.6 L444.3,349.2 L445.3,350.0 L446.3,351.0 L447.3,352.2 L448.3,353.7 L449.3,355.3 L450.3,357.2 L451.3,359.1 L452.3,361.1 L453.3,363.0 L454.3,364.9 L455.3,366.7 L456.3,368.3 L457.3,369.7 L458.3,370.8 L459.3,371.6 L460.3,372.2 L461.3,372.5 L462.3,372.6 L463.3,372.6 L464.3,372.5 L465.3,372.2 L466.3,372.0 L467.3,371.8 L468.3,371.8 L469.3,372.1 L470.3,372.6 L471.3,373.5 L472.3,374.6 L473.3,375.8 L474.3,377.0 L475.3,378.4 L476.3,379.7 L477.3,381.0 L478.3,382.3 L479.3,383.7 L480.3,385.0 L481.3,386.3 L482.3,387.7 L483.3,389.0 L484.3,390.4 L485.3,391.8 L486.3,393.0 L487.3,393.8 L488.3,394.2 L489.3,394.2 L490.3,393.8 L491.3,393.2 L492.3,392.5 L493.3,391.8 L494.3,390.9 L495.3,389.7 L496.3,388.3 L497.3,386.6 L498.3,384.6 L499.3,382.6 L500.3,380.6 L501.3,378.7 L502.3,377.1 L503.3,375.7 L504.3,374.4 L505.3,373.5 L506.3,373.0 L507.3,372.8 L508.3,373.0 L509.3,373.6 L510.3,374.3 L511.3,375.3 L512.3,376.4 L513.3,377.7 L514.3,379.0 L515.3,380.3 L516.3,381.7 L517.3,383.2 L518.3,384.8 L519.3,386.6 L520.3,388.6 L521.3,390.5 L522.3,392.5 L523.3,394.4 L524.3,396.2 L525.3,398.0 L526.3,399.6 L527.3,401.1 L528.3,402.5 L529.3,403.9 L530.3,405.2 L531.3,406.5 L532.3,407.7 L533.3,408.7 L534.3,409.5 L535.3,410.2 L536.3,410.7 L537.3,411.1 L538.3,411.5 L539.3,411.8 L540.3,412.1 L541.3,412.3 L542.3,412.3 L543.3,412.2 L544.3,411.7 L545.3,410.9 L546.3,409.7 L547.3,408.3 L548.3,406.6 L549.3,404.8 L550.3,402.8 L551.3,400.9 L552.3,398.9 L553.3,397.0 L554.3,395.2 L555.3,393.4 L556.3,391.8 L557.3,390.3 L558.3,389.0 L559.3,387.9 L560.3,387.0 L561.3,386.4 L562.3,386.0 L563.3,386.0 L564.3,386.2 L565.3,386.6 L566.3,387.2 L567.3,387.8 L568.3,388.4 L569.3,389.1 L570.3,389.7 L571.3,390.3 L572.3,390.7 L573.3,391.1 L574.3,391.3 L575.3,391.3 L576.3,391.2 L577.3,390.9 L578.3,390.5 L579.3,390.0 L580.3,389.4 L581.3,388.3 L582.3,387.0 L583.3,385.4 L584.3,383.6 L585.3,381.7 L586.3,379.7 L587.3,377.8 L588.3,375.9 L589.3,374.1 L590.3,372.4 L591.3,371.0 L592.3,369.8 L593.3,368.8 L594.3,367.9 L595.3,367.3 L596.3,366.8 L597.3,366.4 L598.3,366.1 L599.3,365.8 L600.3,365.7 L601.3,365.6 L602.3,365.6 L603.3,365.6 L604.3,365.7 L605.3,365.7 L606.3,365.7 L607.3,365.6 L608.3,365.5 L609.3,365.2 L610.3,364.8 L611.3,364.3 L612.3,363.8 L613.3,363.2 L614.3,362.8 L615.3,362.3 L616.3,362.0 L617.3,361.6 L618.3,361.3 L619.3,361.0 L620.3,360.6 L621.3,360.3 L622.3,360.0 L623.3,359.8 L624.3,359.7 L625.3,359.9 L626.3,360.2 L627.3,360.7 L628.3,361.3 L629.3,361.9 L630.3,362.6 L631.3,363.4 L632.3,364.1 L633.3,364.7 L634.3,365.0 L635.3,365.1 L636.3,365.0 L637.3,364.5 L638.3,363.9 L639.3,363.1 L640.3,362.2 L641.3,361.2 L642.3,360.0 L643.3,358.5 L644.3,356.7 L645.3,354.7 L646.3,352.6 L647.3,350.4 L648.3,348.0 L649.3,345.5 L650.3,342.9 L651.3,340.4 L652.3,338.1 L653.3,336.1 L654.3,334.3 L655.3,332.7 L656.3,331.2 L657.3,329.8 L658.3,328.5 L659.3,327.3 L660.3,326.3 L661.3,325.4 L662.3,324.6 L663.3,323.6 L664.3,322.7 L665.3,321.8 L666.3,321.0 L667.3,320.4 L668.3,320.0 L669.3,319.7 L670.3,319.4 L671.3,318.9 L672.3,318.3 L673.3,317.6 L674.3,316.9 L675.3,316.2 L676.3,315.8 L677.3,315.6 L678.3,315.5 L679.3,315.6 L680.3,315.8 L681.3,316.3 L682.3,317.0 L683.3,317.8 L684.3,318.7 L685.3,319.6 L686.3,320.4 L687.3,321.1 L688.3,321.7 L689.3,322.2 L690.3,322.7 L691.3,323.3 L692.3,323.8 L693.3,324.4 L694.3,324.9 L695.3,325.4 L696.3,326.0 L697.3,326.5 L698.3,327.0 L699.3,327.5 L700.3,328.0 L701.3,328.5 L702.3,329.0 L703.3,329.6 L704.3,330.1 L705.3,330.7 L706.3,331.3 L707.3,331.9 L708.3,332.4 L709.3,333.0 L710.3,333.7 L711.3,334.3 L712.3,334.9 L713.3,335.6 L714.3,336.3 L715.3,337.0 L716.3,337.6 L717.3,338.1 L718.3,338.5 L719.3,338.8 L720.3,338.9 L721.3,339.0 L722.3,338.9 L723.3,338.8 L724.3,338.5 L725.3,338.1 L726.3,337.6 L727.3,336.8 L728.3,335.9 L729.3,334.8 L730.3,333.5 L731.3,332.1 L732.3,330.7 L733.3,329.1 L734.3,327.4 L735.3,325.6 L736.3,323.6 L737.3,321.5 L738.3,319.3 L739.3,317.1 L740.3,314.9 L741.3,312.9 L742.3,310.9 L743.3,309.2 L744.3,307.5 L745.3,306.0 L746.3,304.6 L747.3,303.3 L748.3,302.0 L749.3,300.9 L750.3,299.8 L751.3,298.6 L752.3,297.5 L753.3,296.2 L754.3,295.0 L755.3,293.8 L756.3,292.5 L757.3,291.3 L758.3,290.0 L759.3,288.8 L760.3,287.7 L761.3,286.6 L762.3,285.6 L763.3,284.8 L764.3,284.1 L765.3,283.3 L766.3,282.5 L767.3,281.4 L768.3,280.0 L769.3,278.4 L770.3,276.6 L771.3,274.8 L772.3,272.9 L773.3,271.1 L774.3,269.3 L775.3,267.6 L776.3,265.9 L777.3,264.2 L778.3,262.5 L779.3,260.6 L780.3,258.7 L781.3,256.6 L782.3,254.5 L783.3,252.3 L784.3,250.2 L785.3,248.3 L786.3,246.5 L787.3,245.0 L788.3,243.6 L789.3,242.4 L790.3,241.3 L791.3,240.3 L792.3,239.4 L793.3,238.4 L794.3,237.6 L795.3,236.8 L796.3,236.3 L797.3,236.0 L798.3,236.1 L799.3,236.6 L800.3,237.4 L801.3,238.4 L802.3,239.7 L803.3,241.0 L804.3,242.3 L805.3,243.6 L806.3,244.9 L807.3,246.1 L808.3,247.1 L809.3,248.1 L810.3,248.8 L811.3,249.4 L812.3,249.8 L813.3,250.0 L814.3,249.9 L815.3,249.6 L816.3,249.0 L817.3,248.0 L818.3,246.7 L819.3,245.0 L820.3,243.1 L821.3,240.9 L822.3,238.6 L823.3,236.1 L824.3,233.5 L825.3,230.9 L826.3,228.3 L827.3,225.6 L828.3,223.1 L829.3,220.6 L830.3,218.3 L831.3,216.1 L832.3,214.1 L833.3,212.4 L834.3,210.7 L835.3,209.2 L836.3,207.8 L837.3,206.4 L838.3,205.1 L839.3,203.7 L840.3,202.3 L841.3,200.8 L842.3,199.3 L843.3,197.9 L844.3,196.6 L845.3,195.6 L846.3,195.0 L847.3,194.8 L848.3,195.1 L849.3,196.0 L850.3,197.3 L851.3,199.0 L852.3,201.2 L853.3,203.6 L854.3,206.2 L855.3,209.0 L856.3,211.9 L857.3,214.8 L858.3,217.6 L859.3,220.2 L860.3,222.7 L861.3,225.0 L862.3,227.1 L863.3,229.1 L864.3,230.9 L865.3,232.6 L866.3,234.2 L867.3,235.6 L868.3,237.0 L869.3,238.1 L870.3,239.0 L871.3,239.7 L872.3,240.0 L873.3,239.9 L874.3,239.6 L875.3,239.2 L876.3,238.8 L877.3,238.4 L878.3,238.2 L879.3,238.1 L880.3,238.2 L881.3,238.3 L882.3,238.3 L883.3,238.1 L884.3,237.7 L885.3,236.9 L886.3,235.8 L887.3,234.5 L888.3,233.0 L889.3,231.6 L890.3,230.3 L891.3,229.1 L892.3,228.3 L893.3,227.6 L894.3,227.2 L895.3,226.9 L896.3,226.7 L897.3,226.7 L898.3,226.7 L899.3,227.0 L900.3,227.3 L901.3,227.8 L902.3,228.3 L903.3,229.1 L904.3,230.1 L905.3,231.4 L906.3,232.8 L907.3,234.2 L908.3,235.6 L909.3,236.8 L910.3,237.8 L911.3,238.7 L912.3,239.5 L913.3,240.1 L914.3,240.8 L915.3,241.5 L916.3,242.1 L917.3,242.8 L918.3,243.3 L919.3,243.8 L920.3,244.2 L921.3,244.4 L922.3,244.4 L923.3,244.3 L924.3,244.0 L925.3,243.6 L926.3,243.1 L927.3,242.7 L928.3,242.3 L929.3,241.9 L930.3,241.7 L931.3,241.4 L932.3,241.2 L933.3,240.9 L934.3,240.5 L935.3,240.1 L936.3,239.7 L937.3,239.2 L938.3,238.8 L939.3,238.4 L940.3,238.1 L941.3,238.0 L942.3,238.0 L943.3,238.0 L944.3,238.1 L945.3,238.2 L946.3,238.4 L947.3,238.5 L948.3,238.6 L949.3,238.6 L950.3,238.5 L951.3,238.3 L952.3,238.0 L953.3,237.9 L954.3,238.0 L955.3,238.5 L956.3,239.6 L957.3,241.2 L958.3,242.9 L959.3,244.7 L960.3,246.6 L961.3,248.3 L962.3,250.0 L963.3,251.7 L964.3,253.4 L965.3,255.0 L966.3,256.7 L967.3,258.5 L968.3,260.3 L969.3,262.3 L970.3,264.5 L971.3,266.9 L972.3,269.3 L973.3,271.9 L974.3,274.4 L975.3,276.9 L976.3,279.3 L977.3,281.7 L978.3,284.0 L979.3,286.4 L980.3,288.7 L981.3,291.0 L982.3,293.3 L983.3,295.6 L984.3,297.7 L985.3,299.7 L986.3,301.5 L987.3,303.1 L988.3,304.2 L989.3,304.8 L990.3,304.5 L991.3,303.4 L992.3,301.4 L993.3,298.7 L994.3,295.5 L995.3,292.0 L996.3,288.7 L997.3,285.6 L998.3,282.7 L999.3,279.8 L1000.3,277.0 L1001.3,274.1 L1002.3,271.2 L1003.3,268.4 L1004.3,265.7 L1005.3,263.1 L1006.3,260.6 L1007.3,258.2 L1008.3,256.0 L1009.3,253.8 L1010.3,251.8 L1011.3,249.8 L1012.3,248.0 L1013.3,246.2 L1014.3,244.4 L1015.3,242.5 L1016.3,240.4 L1017.3,238.2 L1018.3,235.7 L1019.3,232.9 L1020.3,230.0 L1021.3,227.1 L1022.3,224.2 L1023.3,221.4 L1024.3,218.7 L1025.3,216.3 L1026.3,214.1 L1027.3,212.2 L1028.3,210.4 L1029.3,208.9 L1030.3,207.6 L1031.3,206.5 L1032.3,205.7 L1033.3,205.1 L1034.3,204.7 L1035.3,204.4 L1036.3,204.2 L1037.3,203.9 L1038.3,203.7 L1039.3,203.4 L1040.3,203.2 L1041.3,203.1 L1042.3,202.9 L1043.3,202.7 L1044.3,202.5 L1045.3,202.2 L1046.3,201.9 L1047.3,201.6 L1048.3,201.1 L1049.3,200.6 L1050.3,199.9 L1051.3,199.1 L1052.3,198.2 L1053.3,197.1 L1054.3,195.9 L1055.3,194.5 L1056.3,193.0 L1057.3,191.3 L1058.3,189.4 L1059.3,187.4 L1060.3,185.1 L1061.3,182.6 L1062.3,179.9 L1063.3,176.9 L1064.3,173.8 L1065.3,170.8 L1066.3,167.8 L1067.3,165.0 L1068.3,162.2 L1069.3,159.5 L1070.3,156.7 L1071.3,153.8 L1072.3,150.9 L1073.3,148.0 L1074.3,145.1 L1075.3,142.5 L1076.3,140.0 L1077.3,137.7 L1078.3,135.6 L1079.3,133.8 L1080.3,132.1 L1081.3,130.7 L1082.3,129.5 L1083.3,128.4 L1084.3,127.6 L1085.3,127.0 L1086.3,126.6 L1087.3,126.5 L1088.3,126.7 L1089.3,127.1 L1090.3,127.5 L1091.3,127.8 L1092.3,127.8 L1093.3,127.7 L1094.3,127.4 L1095.3,127.0 L1096.3,126.5 L1097.3,126.1 L1098.3,125.8 L1099.3,125.5 L1100.3,125.2 L1101.3,124.8 L1102.3,124.1 L1103.3,123.1 L1104.3,121.7 L1105.3,120.0 L1106.3,118.0 L1107.3,115.9 L1108.3,113.6 L1109.3,111.2 L1110.3,109.0 L1111.3,106.7 L1112.3,104.6 L1113.3,102.6 L1114.3,100.6 L1115.3,98.7 L1116.3,96.6 L1117.3,94.2 L1118.3,91.3 L1119.3,87.9 L1120.3,84.2 L1121.3,80.5 L1121.6,77.1" stroke="#ff0000" stroke-width="2.08" fill="none" stroke-linejoin="round"/>
<path d="M275.7,394.2 L276.7,393.7 L277.7,393.2 L278.7,392.7 L279.7,392.2 L280.7,391.8 L281.7,391.3 L282.7,390.8 L283.7,390.3 L284.7,389.8 L285.7,389.4 L286.7,388.9 L287.7,388.4 L288.7,387.9 L289.7,387.4 L290.7,386.9 L291.7,386.5 L292.7,386.0 L293.7,385.5 L294.7,385.0 L295.7,384.5 L296.7,384.1 L297.7,383.6 L298.7,383.1 L299.7,382.6 L300.7,382.1 L301.7,381.6 L302.7,381.2 L303.7,380.7 L304.7,380.2 L305.7,379.7 L306.7,379.2 L307.7,378.7 L308.7,378.3 L309.7,377.8 L310.7,377.3 L311.7,376.8 L312.7,376.3 L313.7,375.9 L314.7,375.4 L315.7,374.9 L316.7,374.4 L317.7,373.9 L318.7,373.5 L319.7,373.0 L320.7,372.6 L321.7,372.1 L322.7,371.7 L323.7,371.3 L324.7,370.9 L325.7,370.5 L326.7,370.1 L327.7,369.7 L328.7,369.3 L329.7,368.9 L330.7,368.5 L331.7,368.1 L332.7,367.7 L333.7,367.3 L334.7,366.9 L335.7,366.5 L336.7,366.1 L337.7,365.7 L338.7,365.3 L339.7,365.0 L340.7,364.6 L341.7,364.3 L342.7,364.0 L343.7,363.7 L344.7,363.4 L345.7,363.1 L346.7,362.8 L347.7,362.5 L348.7,362.2 L349.7,361.9 L350.7,361.7 L351.7,361.4 L352.7,361.2 L353.7,360.9 L354.7,360.7 L355.7,360.4 L356.7,360.2 L357.7,359.9 L358.7,359.7 L359.7,359.4 L360.7,359.1 L361.7,358.8 L362.7,358.4 L363.7,358.1 L364.7,357.7 L365.7,357.3 L366.7,357.0 L367.7,356.6 L368.7,356.2 L369.7,355.9 L370.7,355.5 L371.7,355.1 L372.7,354.7 L373.7,354.3 L374.7,353.9 L375.7,353.5 L376.7,353.1 L377.7,352.7 L378.7,352.3 L379.7,351.9 L380.7,351.6 L381.7,351.2 L382.7,350.8 L383.7,350.5 L384.7,350.1 L385.7,349.7 L386.7,349.4 L387.7,349.0 L388.7,348.6 L389.7,348.2 L390.7,347.8 L391.7,347.4 L392.7,346.9 L393.7,346.5 L394.7,346.0 L395.7,345.6 L396.7,345.2 L397.7,344.8 L398.7,344.5 L399.7,344.2 L400.7,343.9 L401.7,343.6 L402.7,343.3 L403.7,343.1 L404.7,342.9 L405.7,342.7 L406.7,342.5 L407.7,342.3 L408.7,342.1 L409.7,341.9 L410.7,341.7 L411.7,341.5 L412.7,341.3 L413.7,341.1 L414.7,340.9 L415.7,340.7 L416.7,340.5 L417.7,340.3 L418.7,340.2 L419.7,340.1 L420.7,340.0 L421.7,339.9 L422.7,339.8 L423.7,339.7 L424.7,339.6 L425.7,339.5 L426.7,339.3 L427.7,339.2 L428.7,339.1 L429.7,339.0 L430.7,338.8 L431.7,338.7 L432.7,338.6 L433.7,338.5 L434.7,338.5 L435.7,338.5 L436.7,338.5 L437.7,338.5 L438.7,338.5 L439.7,338.5 L440.7,338.5 L441.7,338.5 L442.7,338.6 L443.7,338.6 L444.7,338.7 L445.7,338.8 L446.7,338.8 L447.7,338.9 L448.7,339.0 L449.7,339.1 L450.7,339.2 L451.7,339.3 L452.7,339.4 L453.7,339.5 L454.7,339.6 L455.7,339.7 L456.7,339.8 L457.7,339.9 L458.7,340.0 L459.7,340.1 L460.7,340.2 L461.7,340.3 L462.7,340.4 L463.7,340.5 L464.7,340.6 L465.7,340.7 L466.7,340.9 L467.7,341.1 L468.7,341.3 L469.7,341.5 L470.7,341.7 L471.7,341.9 L472.7,342.1 L473.7,342.3 L474.7,342.6 L475.7,342.9 L476.7,343.2 L477.7,343.6 L478.7,343.9 L479.7,344.2 L480.7,344.5 L481.7,344.8 L482.7,345.1 L483.7,345.4 L484.7,345.6 L485.7,345.9 L486.7,346.1 L487.7,346.4 L488.7,346.6 L489.7,346.8 L490.7,347.0 L491.7,347.2 L492.7,347.4 L493.7,347.6 L494.7,347.7 L495.7,347.9 L496.7,348.2 L497.7,348.6 L498.7,349.0 L499.7,349.5 L500.7,350.0 L501.7,350.4 L502.7,350.7 L503.7,351.1 L504.7,351.4 L505.7,351.8 L506.7,352.2 L507.7,352.7 L508.7,353.2 L509.7,353.7 L510.7,354.2 L511.7,354.8 L512.7,355.4 L513.7,356.0 L514.7,356.6 L515.7,357.3 L516.7,358.0 L517.7,358.6 L518.7,359.3 L519.7,360.0 L520.7,360.6 L521.7,361.3 L522.7,362.0 L523.7,362.7 L524.7,363.5 L525.7,364.3 L526.7,365.1 L527.7,365.9 L528.7,366.7 L529.7,367.5 L530.7,368.2 L531.7,369.0 L532.7,369.6 L533.7,370.3 L534.7,370.9 L535.7,371.5 L536.7,372.1 L537.7,372.7 L538.7,373.2 L539.7,373.7 L540.7,374.1 L541.7,374.6 L542.7,375.0 L543.7,375.4 L544.7,375.7 L545.7,376.0 L546.7,376.4 L547.7,376.7 L548.7,377.0 L549.7,377.4 L550.7,377.7 L551.7,378.0 L552.7,378.4 L553.7,378.7 L554.7,379.0 L555.7,379.4 L556.7,379.7 L557.7,380.0 L558.7,380.4 L559.7,380.7 L560.7,381.0 L561.7,381.4 L562.7,381.7 L563.7,382.0 L564.7,382.4 L565.7,382.7 L566.7,383.0 L567.7,383.4 L568.7,383.7 L569.7,384.0 L570.7,384.4 L571.7,384.7 L572.7,384.9 L573.7,385.2 L574.7,385.4 L575.7,385.7 L576.7,385.9 L577.7,386.1 L578.7,386.3 L579.7,386.5 L580.7,386.7 L581.7,386.9 L582.7,387.1 L583.7,387.2 L584.7,387.3 L585.7,387.3 L586.7,387.4 L587.7,387.4 L588.7,387.4 L589.7,387.3 L590.7,387.3 L591.7,387.3 L592.7,387.3 L593.7,387.2 L594.7,387.2 L595.7,387.2 L596.7,387.1 L597.7,387.0 L598.7,387.0 L599.7,386.9 L600.7,386.8 L601.7,386.8 L602.7,386.7 L603.7,386.6 L604.7,386.5 L605.7,386.4 L606.7,386.3 L607.7,386.2 L608.7,386.0 L609.7,385.9 L610.7,385.8 L611.7,385.6 L612.7,385.5 L613.7,385.3 L614.7,385.2 L615.7,385.0 L616.7,384.8 L617.7,384.6 L618.7,384.4 L619.7,384.2 L620.7,383.9 L621.7,383.7 L622.7,383.5 L623.7,383.3 L624.7,383.0 L625.7,382.8 L626.7,382.6 L627.7,382.5 L628.7,382.3 L629.7,382.1 L630.7,382.0 L631.7,381.8 L632.7,381.7 L633.7,381.6 L634.7,381.5 L635.7,381.4 L636.7,381.3 L637.7,381.1 L638.7,381.0 L639.7,380.8 L640.7,380.7 L641.7,380.5 L642.7,380.3 L643.7,380.1 L644.7,379.9 L645.7,379.7 L646.7,379.5 L647.7,379.2 L648.7,379.0 L649.7,378.7 L650.7,378.3 L651.7,378.0 L652.7,377.6 L653.7,377.2 L654.7,376.8 L655.7,376.3 L656.7,375.8 L657.7,375.3 L658.7,374.7 L659.7,374.2 L660.7,373.7 L661.7,373.2 L662.7,372.7 L663.7,372.1 L664.7,371.5 L665.7,370.9 L666.7,370.2 L667.7,369.4 L668.7,368.7 L669.7,367.9 L670.7,367.0 L671.7,366.2 L672.7,365.3 L673.7,364.5 L674.7,363.7 L675.7,362.9 L676.7,362.1 L677.7,361.4 L678.7,360.6 L679.7,360.0 L680.7,359.3 L681.7,358.7 L682.7,358.1 L683.7,357.5 L684.7,356.9 L685.7,356.4 L686.7,355.9 L687.7,355.4 L688.7,355.0 L689.7,354.5 L690.7,354.1 L691.7,353.7 L692.7,353.4 L693.7,353.0 L694.7,352.6 L695.7,352.2 L696.7,351.9 L697.7,351.5 L698.7,351.2 L699.7,350.8 L700.7,350.5 L701.7,350.2 L702.7,349.9 L703.7,349.5 L704.7,349.2 L705.7,348.9 L706.7,348.6 L707.7,348.2 L708.7,347.8 L709.7,347.4 L710.7,346.9 L711.7,346.4 L712.7,345.9 L713.7,345.5 L714.7,345.1 L715.7,344.7 L716.7,344.4 L717.7,344.0 L718.7,343.6 L719.7,343.2 L720.7,342.9 L721.7,342.5 L722.7,342.2 L723.7,341.9 L724.7,341.6 L725.7,341.3 L726.7,341.0 L727.7,340.7 L728.7,340.4 L729.7,340.2 L730.7,339.9 L731.7,339.7 L732.7,339.4 L733.7,339.2 L734.7,338.9 L735.7,338.6 L736.7,338.3 L737.7,337.9 L738.7,337.5 L739.7,337.1 L740.7,336.6 L741.7,336.1 L742.7,335.7 L743.7,335.2 L744.7,334.7 L745.7,334.2 L746.7,333.8 L747.7,333.4 L748.7,333.0 L749.7,332.6 L750.7,332.2 L751.7,331.8 L752.7,331.4 L753.7,331.0 L754.7,330.5 L755.7,330.1 L756.7,329.7 L757.7,329.2 L758.7,328.7 L759.7,328.2 L760.7,327.7 L761.7,327.0 L762.7,326.3 L763.7,325.6 L764.7,324.8 L765.7,324.0 L766.7,323.2 L767.7,322.3 L768.7,321.4 L769.7,320.5 L770.7,319.7 L771.7,318.8 L772.7,317.9 L773.7,317.1 L774.7,316.3 L775.7,315.5 L776.7,314.7 L777.7,314.0 L778.7,313.3 L779.7,312.5 L780.7,311.8 L781.7,311.0 L782.7,310.2 L783.7,309.4 L784.7,308.7 L785.7,307.9 L786.7,307.1 L787.7,306.4 L788.7,305.6 L789.7,304.9 L790.7,304.3 L791.7,303.7 L792.7,303.1 L793.7,302.5 L794.7,302.0 L795.7,301.4 L796.7,300.9 L797.7,300.3 L798.7,299.8 L799.7,299.3 L800.7,298.8 L801.7,298.3 L802.7,297.8 L803.7,297.4 L804.7,297.0 L805.7,296.6 L806.7,296.2 L807.7,295.7 L808.7,295.3 L809.7,294.8 L810.7,294.3 L811.7,293.8 L812.7,293.3 L813.7,292.7 L814.7,292.2 L815.7,291.7 L816.7,291.1 L817.7,290.5 L818.7,289.9 L819.7,289.3 L820.7,288.6 L821.7,287.9 L822.7,287.1 L823.7,286.3 L824.7,285.5 L825.7,284.7 L826.7,283.9 L827.7,283.0 L828.7,282.1 L829.7,281.2 L830.7,280.3 L831.7,279.4 L832.7,278.5 L833.7,277.5 L834.7,276.6 L835.7,275.7 L836.7,274.7 L837.7,273.8 L838.7,272.8 L839.7,271.8 L840.7,270.8 L841.7,269.8 L842.7,268.8 L843.7,267.8 L844.7,266.9 L845.7,265.9 L846.7,265.0 L847.7,264.1 L848.7,263.2 L849.7,262.3 L850.7,261.5 L851.7,260.8 L852.7,260.0 L853.7,259.3 L854.7,258.5 L855.7,257.7 L856.7,257.0 L857.7,256.1 L858.7,255.3 L859.7,254.5 L860.7,253.7 L861.7,252.9 L862.7,252.1 L863.7,251.3 L864.7,250.5 L865.7,249.8 L866.7,249.0 L867.7,248.3 L868.7,247.7 L869.7,247.1 L870.7,246.5 L871.7,246.0 L872.7,245.4 L873.7,244.9 L874.7,244.4 L875.7,244.0 L876.7,243.6 L877.7,243.2 L878.7,243.0 L879.7,242.8 L880.7,242.6 L881.7,242.3 L882.7,241.8 L883.7,241.1 L884.7,240.4 L885.7,239.6 L886.7,238.9 L887.7,238.2 L888.7,237.6 L889.7,237.1 L890.7,236.6 L891.7,236.1 L892.7,235.6 L893.7,235.2 L894.7,234.8 L895.7,234.4 L896.7,234.1 L897.7,233.7 L898.7,233.4 L899.7,233.1 L900.7,232.8 L901.7,232.6 L902.7,232.4 L903.7,232.3 L904.7,232.1 L905.7,232.0 L906.7,231.9 L907.7,231.8 L908.7,231.7 L909.7,231.6 L910.7,231.6 L911.7,231.5 L912.7,231.4 L913.7,231.4 L914.7,231.3 L915.7,231.2 L916.7,231.1 L917.7,231.1 L918.7,231.0 L919.7,231.0 L920.7,230.9 L921.7,230.9 L922.7,230.9 L923.7,230.9 L924.7,230.9 L925.7,230.9 L926.7,230.9 L927.7,230.9 L928.7,230.9 L929.7,230.9 L930.7,230.9 L931.7,230.9 L932.7,230.9 L933.7,230.9 L934.7,230.9 L935.7,230.9 L936.7,230.9 L937.7,230.9 L938.7,230.9 L939.7,230.9 L940.7,230.9 L941.7,230.9 L942.7,230.9 L943.7,230.8 L944.7,230.8 L945.7,230.7 L946.7,230.6 L947.7,230.5 L948.7,230.4 L949.7,230.3 L950.7,230.1 L951.7,230.0 L952.7,229.9 L953.7,229.8 L954.7,229.7 L955.7,229.7 L956.7,229.8 L957.7,230.0 L958.7,230.2 L959.7,230.4 L960.7,230.7 L961.7,231.1 L962.7,231.5 L963.7,231.9 L964.7,232.3 L965.7,232.8 L966.7,233.3 L967.7,233.8 L968.7,234.3 L969.7,234.9 L970.7,235.5 L971.7,236.2 L972.7,236.9 L973.7,237.5 L974.7,238.3 L975.7,239.0 L976.7,239.8 L977.7,240.6 L978.7,241.4 L979.7,242.1 L980.7,242.9 L981.7,243.6 L982.7,244.4 L983.7,245.1 L984.7,245.8 L985.7,246.5 L986.7,247.2 L987.7,247.9 L988.7,248.6 L989.7,249.1 L990.7,249.6 L991.7,250.0 L992.7,250.3 L993.7,250.5 L994.7,250.7 L995.7,250.8 L996.7,250.9 L997.7,251.0 L998.7,251.0 L999.7,251.1 L1000.7,251.1 L1001.7,251.2 L1002.7,251.3 L1003.7,251.4 L1004.7,251.5 L1005.7,251.5 L1006.7,251.6 L1007.7,251.7 L1008.7,251.7 L1009.7,251.8 L1010.7,251.7 L1011.7,251.7 L1012.7,251.6 L1013.7,251.5 L1014.7,251.3 L1015.7,251.1 L1016.7,250.8 L1017.7,250.5 L1018.7,250.2 L1019.7,249.9 L1020.7,249.7 L1021.7,249.4 L1022.7,249.2 L1023.7,248.9 L1024.7,248.7 L1025.7,248.5 L1026.7,248.3 L1027.7,248.1 L1028.7,248.0 L1029.7,247.8 L1030.7,247.6 L1031.7,247.5 L1032.7,247.3 L1033.7,247.2 L1034.7,247.0 L1035.7,246.9 L1036.7,246.7 L1037.7,246.6 L1038.7,246.4 L1039.7,246.3 L1040.7,246.1 L1041.7,245.9 L1042.7,245.7 L1043.7,245.6 L1044.7,245.4 L1045.7,245.2 L1046.7,245.0 L1047.7,244.8 L1048.7,244.5 L1049.7,244.2 L1050.7,243.9 L1051.7,243.5 L1052.7,243.1 L1053.7,242.7 L1054.7,242.2 L1055.7,241.7 L1056.7,241.1 L1057.7,240.6 L1058.7,240.0 L1059.7,239.4 L1060.7,238.8 L1061.7,238.2 L1062.7,237.6 L1063.7,237.0 L1064.7,236.4 L1065.7,235.7 L1066.7,235.0 L1067.7,234.2 L1068.7,233.3 L1069.7,232.5 L1070.7,231.7 L1071.7,230.8 L1072.7,229.9 L1073.7,229.0 L1074.7,228.1 L1075.7,227.2 L1076.7,226.4 L1077.7,225.5 L1078.7,224.6 L1079.7,223.7 L1080.7,222.8 L1081.7,221.9 L1082.7,220.9 L1083.7,220.0 L1084.7,219.0 L1085.7,218.1 L1086.7,217.1 L1087.7,216.2 L1088.7,215.2 L1089.7,214.3 L1090.7,213.3 L1091.7,212.4 L1092.7,211.4 L1093.7,210.5 L1094.7,209.5 L1095.7,208.5 L1096.7,207.6 L1097.7,206.6 L1098.7,205.7 L1099.7,204.7 L1100.7,203.8 L1101.7,202.8 L1102.7,201.9 L1103.7,200.9 L1104.7,200.0 L1105.7,199.0 L1106.7,198.1 L1107.7,197.1 L1108.7,196.1 L1109.7,195.2 L1110.7,194.2 L1111.7,193.2 L1112.7,192.1 L1113.7,191.0 L1114.7,189.7 L1115.7,188.4 L1116.7,187.1 L1117.7,185.7 L1118.7,184.1 L1119.7,182.5 L1120.7,180.9 L1121.4,179.2" stroke="#800080" stroke-width="2.08" fill="none" stroke-linejoin="round"/>
</g>
<rect x="86.5" y="10.5" width="1085.0" height="446.0" fill="none" stroke="#000" stroke-width="1.1"/>
<path d="M213.5,456.5 v4.9 M392.5,456.5 v4.9 M571.5,456.5 v4.9 M750.5,456.5 v4.9 M929.5,456.5 v4.9 M1108.5,456.5 v4.9 M86.5,419.5 h-4.9 M86.5,344.5 h-4.9 M86.5,269.5 h-4.9 M86.5,193.5 h-4.9 M86.5,118.5 h-4.9 M86.5,43.5 h-4.9 M213.5,620.5 v4.9 M392.5,620.5 v4.9 M571.5,620.5 v4.9 M750.5,620.5 v4.9 M929.5,620.5 v4.9 M1108.5,620.5 v4.9 M86.5,620.5 h-4.9 M86.5,584.5 h-4.9 M86.5,548.5 h-4.9 M86.5,512.5 h-4.9 M86.5,476.5 h-4.9" stroke="#000" stroke-width="1.1" fill="none"/>
<text x="52.1" y="423.2" font-size="13.00" textLength="23.9" lengthAdjust="spacingAndGlyphs">100</text>
<text x="52.1" y="348.2" font-size="13.00" textLength="23.9" lengthAdjust="spacingAndGlyphs">150</text>
<text x="52.1" y="273.2" font-size="13.00" textLength="23.9" lengthAdjust="spacingAndGlyphs">200</text>
<text x="52.1" y="197.2" font-size="13.00" textLength="23.9" lengthAdjust="spacingAndGlyphs">250</text>
<text x="52.1" y="122.2" font-size="13.00" textLength="23.9" lengthAdjust="spacingAndGlyphs">300</text>
<text x="52.1" y="47.2" font-size="13.00" textLength="23.9" lengthAdjust="spacingAndGlyphs">350</text>
<rect x="948.6" y="348.5" width="205.1" height="89.5" rx="4.3" ry="4.3" fill="#fff" fill-opacity="0.9" stroke="#198d19" stroke-width="1.39"/>
<text x="988.1" y="364.2" font-size="14.20" textLength="160.9" lengthAdjust="spacingAndGlyphs" fill="#008000">358.36 (+7.06 +2.01%)</text>
<text x="1038.9" y="380.6" font-size="14.20" textLength="110.1" lengthAdjust="spacingAndGlyphs" fill="#008000">147.54~359.00</text>
<text x="983.0" y="396.4" font-size="14.20" textLength="166.0" lengthAdjust="spacingAndGlyphs" fill="#008000">326.91/310.78/258.98</text>
<text x="1020.9" y="412.8" font-size="14.20" textLength="128.1" lengthAdjust="spacingAndGlyphs" fill="#008000">2026-01-28 05:00</text>
<text x="953.7" y="430.6" font-size="14.20" textLength="57.5" lengthAdjust="spacingAndGlyphs" fill="#008000">+59.97/</text>
<text x="1011.6" y="431.0" font-size="14.60" fill="#008000" font-weight="350">偏多</text>
<text x="1042.3" y="430.6" font-size="14.20" textLength="106.7" lengthAdjust="spacingAndGlyphs" fill="#008000">/+30.85/+0.27</text>
<rect x="93.6" y="17.6" width="108.1" height="118.6" rx="3" ry="3" fill="#fff" fill-opacity="0.8" stroke="#ccc" stroke-opacity="0.8" stroke-width="1.1"/>
<path d="M96.9,26.9 H126.8" stroke="#000" stroke-width="2.08"/>
<path d="M96.9,46.9 H126.8" stroke="#008000" stroke-width="2.08"/>
<path d="M96.9,67.7 H126.8" stroke="#ff0000" stroke-width="2.08"/>
<path d="M96.9,86.0 H126.8" stroke="#800080" stroke-width="2.08"/>
<path d="M112.6,95.9 L102.2,115.6 L123.0,115.6 Z" fill="#008000"/>
<path d="M112.6,136.2 L102.2,115.6 L123.0,115.6 Z" fill="#ff0000"/>
<text x="137.8" y="31.8" font-size="12.00" textLength="33.3" lengthAdjust="spacingAndGlyphs">Close</text>
<text x="137.5" y="51.8" font-size="12.00" textLength="38.3" lengthAdjust="spacingAndGlyphs">MA50[</text>
<text x="175.6" y="51.6" font-size="12.90" font-weight="350">买</text>
<text x="189.6" y="51.8" font-size="12.00" textLength="3.9" lengthAdjust="spacingAndGlyphs">]</text>
<text x="137.5" y="72.8" font-size="12.00" textLength="38.3" lengthAdjust="spacingAndGlyphs">MA25[</text>
<text x="175.6" y="72.6" font-size="12.90" font-weight="350">卖</text>
<text x="189.6" y="72.8" font-size="12.00" textLength="3.9" lengthAdjust="spacingAndGlyphs">]</text>
<text x="137.5" y="91.5" font-size="12.00" textLength="42.6" lengthAdjust="spacingAndGlyphs">MA200</text>
<text x="137.5" y="109.5" font-size="12.00" textLength="20.2" lengthAdjust="spacingAndGlyphs">Buy</text>
<text x="137.8" y="128.8" font-size="12.00" textLength="21.5" lengthAdjust="spacingAndGlyphs">Sell</text>
<path d="M213.5,471.5 V620.5 M392.5,471.5 V620.5 M571.5,471.5 V620.5 M750.5,471.5 V620.5 M929.5,471.5 V620.5 M1108.5,471.5 V620.5 M86.5,620.5 H1171.5 M86.5,584.5 H1171.5 M86.5,548.5 H1171.5 M86.5,512.5 H1171.5 M86.5,476.5 H1171.5" stroke="#b0b0b0" stroke-width="1.1" fill="none"/>
<g transform="translate(0.5,0)" clip-path="url(#c2)"><path d="M136,620.5 V615.8 M137,620.5 V613.8 M139,620.5 V615.7 M140,620.5 V615.9 M141,620.5 V617.0 M143,620.5 V615.7 M144,620.5 V611.8 M146,620.5 V614.1 M147,620.5 V612.1 M148,620.5 V614.6 M154,620.5 V599.8 M156,620.5 V614.8 M157,620.5 V618.0 M158,620.5 V612.9 M160,620.5 V614.0 M161,620.5 V614.0 M163,620.5 V618.1 M164,620.5 V603.8 M165,620.5 V617.0 M167,620.5 V616.3 M168,620.5 V614.6 M170,620.5 V615.5 M171,620.5 V614.0 M172,620.5 V616.7 M173,620.5 V606.8 M178,620.5 V614.6 M180,620.5 V614.4 M181,620.5 V616.7 M182,620.5 V610.2 M184,620.5 V614.0 M185,620.5 V611.8 M186,620.5 V606.8 M187,620.5 V616.7 M188,620.5 V616.9 M189,620.5 V616.2 M191,620.5 V615.7 M192,620.5 V613.8 M194,620.5 V614.9 M195,620.5 V616.4 M196,620.5 V617.2 M204,620.5 V616.8 M205,620.5 V612.6 M206,620.5 V617.4 M208,620.5 V615.7 M209,620.5 V615.4 M211,620.5 V618.4 M212,620.5 V616.4 M213,620.5 V613.5 M215,620.5 V618.8 M216,620.5 V616.7 M218,620.5 V615.9 M219,620.5 V617.0 M220,620.5 V613.9 M222,620.5 V614.9 M228,620.5 V616.7 M229,620.5 V599.1 M230,620.5 V610.1 M232,620.5 V608.8 M233,620.5 V605.9 M235,620.5 V611.5 M236,620.5 V612.4 M237,620.5 V616.2 M239,620.5 V610.5 M240,620.5 V614.7 M242,620.5 V614.3 M243,620.5 V616.2 M244,620.5 V615.6 M246,620.5 V614.5 M247,620.5 V607.0 M248,620.5 V599.8 M253,620.5 V617.5 M254,620.5 V616.6 M255,620.5 V602.5 M256,620.5 V612.1 M257,620.5 V606.1 M259,620.5 V610.7 M260,620.5 V617.3 M261,620.5 V618.1 M263,620.5 V611.7 M264,620.5 V615.1 M266,620.5 V600.7 M267,620.5 V608.9 M268,620.5 V608.2 M270,620.5 V612.5 M271,620.5 V612.2 M273,620.5 V601.6 M277,620.5 V602.5 M278,620.5 V611.5 M280,620.5 V605.8 M281,620.5 V601.6 M283,620.5 V611.2 M284,620.5 V611.0 M285,620.5 V616.9 M287,620.5 V607.4 M288,620.5 V609.2 M290,620.5 V611.2 M291,620.5 V617.6 M292,620.5 V615.5 M294,620.5 V611.5 M295,620.5 V617.9 M297,620.5 V615.6 M302,620.5 V609.2 M304,620.5 V613.5 M305,620.5 V618.0 M307,620.5 V611.7 M308,620.5 V614.8 M309,620.5 V616.4 M311,620.5 V615.4 M312,620.5 V614.6 M314,620.5 V615.8 M315,620.5 V613.1 M316,620.5 V617.2 M318,620.5 V616.8 M319,620.5 V613.4 M321,620.5 V616.0 M322,620.5 V617.5 M328,620.5 V613.7 M329,620.5 V612.0 M331,620.5 V616.9 M332,620.5 V618.1 M333,620.5 V616.3 M335,620.5 V616.4 M336,620.5 V616.6 M338,620.5 V612.2 M339,620.5 V617.7 M340,620.5 V612.7 M342,620.5 V618.0 M343,620.5 V617.4 M345,620.5 V614.6 M346,620.5 V613.2 M353,620.5 V614.0 M355,620.5 V615.3 M356,620.5 V615.8 M357,620.5 V615.8 M359,620.5 V614.8 M360,620.5 V616.4 M362,620.5 V615.5 M363,620.5 V614.8 M364,620.5 V616.1 M366,620.5 V606.1 M367,620.5 V614.8 M369,620.5 V611.2 M370,620.5 V615.4 M371,620.5 V616.9 M377,620.5 V616.8 M379,620.5 V616.1 M380,620.5 V613.8 M381,620.5 V616.7 M383,620.5 V615.2 M384,620.5 V611.4 M386,620.5 V619.1 M387,620.5 V617.8 M388,620.5 V615.6 M390,620.5 V615.2 M391,620.5 V615.6 M393,620.5 V616.9 M394,620.5 V614.6 M395,620.5 V615.1 M401,620.5 V572.6 M403,620.5 V582.3 M404,620.5 V590.8 M405,620.5 V602.6 M407,620.5 V608.6 M408,620.5 V606.0 M410,620.5 V606.9 M411,620.5 V605.9 M412,620.5 V616.1 M414,620.5 V608.5 M415,620.5 V597.0 M417,620.5 V611.7 M418,620.5 V606.1 M419,620.5 V597.8 M421,620.5 V598.9 M425,620.5 V576.9 M427,620.5 V590.8 M428,620.5 V613.8 M429,620.5 V608.2 M431,620.5 V608.2 M432,620.5 V601.6 M434,620.5 V597.2 M435,620.5 V616.3 M436,620.5 V597.4 M438,620.5 V613.1 M439,620.5 V601.4 M441,620.5 V587.6 M442,620.5 V605.4 M443,620.5 V596.7 M445,620.5 V607.5 M446,620.5 V605.4 M452,620.5 V601.0 M453,620.5 V606.0 M455,620.5 V607.5 M456,620.5 V594.0 M458,620.5 V599.0 M459,620.5 V608.8 M460,620.5 V588.5 M462,620.5 V612.6 M463,620.5 V600.6 M465,620.5 V608.8 M466,620.5 V606.6 M467,620.5 V602.6 M468,620.5 V593.1 M469,620.5 V606.1 M470,620.5 V603.2 M477,620.5 V614.0 M479,620.5 V613.9 M480,620.5 V603.4 M482,620.5 V612.1 M483,620.5 V612.3 M484,620.5 V613.8 M486,620.5 V597.6 M487,620.5 V602.4 M489,620.5 V595.3 M490,620.5 V612.0 M491,620.5 V607.5 M493,620.5 V612.7 M494,620.5 V602.2 M496,620.5 V594.8 M499,620.5 V595.1 M503,620.5 V611.8 M504,620.5 V594.9 M506,620.5 V600.3 M507,620.5 V608.5 M508,620.5 V615.2 M510,620.5 V596.1 M511,620.5 V608.1 M513,620.5 V610.6 M514,620.5 V605.0 M515,620.5 V604.9 M517,620.5 V595.1 M518,620.5 V612.3 M519,620.5 V591.3 M520,620.5 V598.9 M527,620.5 V595.2 M528,620.5 V595.6 M530,620.5 V608.5 M531,620.5 V611.2 M532,620.5 V589.5 M534,620.5 V606.8 M535,620.5 V606.8 M537,620.5 V595.9 M538,620.5 V609.0 M539,620.5 V615.9 M541,620.5 V609.6 M542,620.5 V593.5 M544,620.5 V601.8 M545,620.5 V593.5 M551,620.5 V610.6 M552,620.5 V607.6 M554,620.5 V601.6 M555,620.5 V607.1 M556,620.5 V596.9 M558,620.5 V607.9 M559,620.5 V599.8 M561,620.5 V595.4 M562,620.5 V595.3 M563,620.5 V611.2 M565,620.5 V602.1 M566,620.5 V615.2 M568,620.5 V613.1 M569,620.5 V615.6 M570,620.5 V601.4 M576,620.5 V614.1 M578,620.5 V591.7 M579,620.5 V610.5 M580,620.5 V609.9 M581,620.5 V590.8 M582,620.5 V612.4 M583,620.5 V608.9 M585,620.5 V599.5 M586,620.5 V610.1 M587,620.5 V578.2 M589,620.5 V605.0 M590,620.5 V611.5 M592,620.5 V615.0 M593,620.5 V613.1 M594,620.5 V605.2 M602,620.5 V616.3 M603,620.5 V613.7 M604,620.5 V606.4 M606,620.5 V607.7 M607,620.5 V611.5 M609,620.5 V607.5 M610,620.5 V610.7 M611,620.5 V615.2 M613,620.5 V616.0 M614,620.5 V613.6 M616,620.5 V606.6 M617,620.5 V613.4 M618,620.5 V614.3 M620,620.5 V613.9 M626,620.5 V615.8 M627,620.5 V611.5 M628,620.5 V614.9 M630,620.5 V609.3 M631,620.5 V617.2 M633,620.5 V609.4 M634,620.5 V613.3 M635,620.5 V616.5 M637,620.5 V607.1 M638,620.5 V611.9 M640,620.5 V616.9 M641,620.5 V614.0 M642,620.5 V560.2 M644,620.5 V596.6 M645,620.5 V606.8 M651,620.5 V595.1 M652,620.5 V607.6 M654,620.5 V609.5 M655,620.5 V603.2 M657,620.5 V607.8 M658,620.5 V608.9 M659,620.5 V616.8 M661,620.5 V606.4 M662,620.5 V603.6 M664,620.5 V612.3 M665,620.5 V612.9 M666,620.5 V601.0 M668,620.5 V616.3 M669,620.5 V609.0 M676,620.5 V599.7 M678,620.5 V614.5 M679,620.5 V608.0 M681,620.5 V601.6 M682,620.5 V611.9 M683,620.5 V608.8 M685,620.5 V606.9 M686,620.5 V614.5 M688,620.5 V611.8 M689,620.5 V610.2 M690,620.5 V607.5 M692,620.5 V611.7 M693,620.5 V612.3 M702,620.5 V614.8 M703,620.5 V612.7 M705,620.5 V606.5 M706,620.5 V610.6 M707,620.5 V614.0 M709,620.5 V613.9 M710,620.5 V597.4 M712,620.5 V603.8 M713,620.5 V592.6 M714,620.5 V617.3 M716,620.5 V594.4 M717,620.5 V607.6 M719,620.5 V599.2 M720,620.5 V597.1 M726,620.5 V606.8 M727,620.5 V609.5 M729,620.5 V605.9 M730,620.5 V615.6 M731,620.5 V601.8 M733,620.5 V606.7 M734,620.5 V611.7 M736,620.5 V598.4 M737,620.5 V595.4 M738,620.5 V613.9 M740,620.5 V611.2 M741,620.5 V593.5 M743,620.5 V605.6 M744,620.5 V608.8 M750,620.5 V609.9 M751,620.5 V584.5 M753,620.5 V592.6 M754,620.5 V610.1 M755,620.5 V610.6 M757,620.5 V591.7 M758,620.5 V592.1 M759,620.5 V589.0 M760,620.5 V589.0 M761,620.5 V594.7 M762,620.5 V608.4 M764,620.5 V574.6 M765,620.5 V613.9 M767,620.5 V608.1 M768,620.5 V603.6 M769,620.5 V598.7 M775,620.5 V610.3 M777,620.5 V608.6 M778,620.5 V605.9 M779,620.5 V607.4 M780,620.5 V576.8 M781,620.5 V607.8 M782,620.5 V576.8 M784,620.5 V614.3 M785,620.5 V611.1 M786,620.5 V613.8 M788,620.5 V616.0 M789,620.5 V615.6 M791,620.5 V614.1 M792,620.5 V614.4 M793,620.5 V613.7 M801,620.5 V614.5 M802,620.5 V614.0 M803,620.5 V614.9 M805,620.5 V617.2 M806,620.5 V613.4 M808,620.5 V611.2 M809,620.5 V613.5 M810,620.5 V615.2 M812,620.5 V613.6 M813,620.5 V616.9 M815,620.5 V618.1 M816,620.5 V614.8 M817,620.5 V616.9 M819,620.5 V613.0 M825,620.5 V617.3 M826,620.5 V618.9 M827,620.5 V617.3 M829,620.5 V610.5 M830,620.5 V616.2 M832,620.5 V617.4 M833,620.5 V616.2 M834,620.5 V612.6 M836,620.5 V611.9 M837,620.5 V612.8 M839,620.5 V605.4 M840,620.5 V609.5 M841,620.5 V612.3 M843,620.5 V608.9 M844,620.5 V602.2 M850,620.5 V604.4 M851,620.5 V603.9 M853,620.5 V589.9 M854,620.5 V610.6 M856,620.5 V605.7 M857,620.5 V611.1 M858,620.5 V593.5 M860,620.5 V606.4 M861,620.5 V604.2 M863,620.5 V610.6 M864,620.5 V595.2 M865,620.5 V601.3 M867,620.5 V610.4 M868,620.5 V608.9 M875,620.5 V593.9 M877,620.5 V610.7 M878,620.5 V603.4 M880,620.5 V590.8 M881,620.5 V608.8 M882,620.5 V613.6 M884,620.5 V607.7 M885,620.5 V606.8 M887,620.5 V602.4 M888,620.5 V605.6 M889,620.5 V610.3 M891,620.5 V606.9 M892,620.5 V609.2 M899,620.5 V611.7 M901,620.5 V612.1 M902,620.5 V613.1 M904,620.5 V609.1 M905,620.5 V615.2 M906,620.5 V614.1 M908,620.5 V611.8 M909,620.5 V616.0 M911,620.5 V613.2 M912,620.5 V616.9 M913,620.5 V613.8 M915,620.5 V593.5 M916,620.5 V608.5 M918,620.5 V611.3 M925,620.5 V611.5 M926,620.5 V615.2 M928,620.5 V599.6 M929,620.5 V607.5 M930,620.5 V603.4 M932,620.5 V612.9 M933,620.5 V609.8 M935,620.5 V615.0 M936,620.5 V602.3 M937,620.5 V600.5 M939,620.5 V614.6 M940,620.5 V606.5 M942,620.5 V531.2 M943,620.5 V613.5 M944,620.5 V577.3 M949,620.5 V613.3 M950,620.5 V610.4 M952,620.5 V608.2 M953,620.5 V611.8 M954,620.5 V603.9 M956,620.5 V602.2 M957,620.5 V598.7 M959,620.5 V598.0 M960,620.5 V588.3 M961,620.5 V592.7 M963,620.5 V611.4 M964,620.5 V607.3 M966,620.5 V610.2 M967,620.5 V610.3 M968,620.5 V604.5 M974,620.5 V603.8 M976,620.5 V599.7 M977,620.5 V612.3 M978,620.5 V610.9 M980,620.5 V558.6 M981,620.5 V605.2 M983,620.5 V605.9 M984,620.5 V581.3 M985,620.5 V608.5 M987,620.5 V597.4 M988,620.5 V600.7 M990,620.5 V604.2 M991,620.5 V608.0 M992,620.5 V604.8 M993,620.5 V563.4 M1000,620.5 V615.5 M1001,620.5 V609.5 M1002,620.5 V603.1 M1004,620.5 V551.6 M1005,620.5 V601.7 M1007,620.5 V602.1 M1008,620.5 V611.3 M1009,620.5 V605.1 M1011,620.5 V605.5 M1012,620.5 V599.3 M1014,620.5 V597.7 M1015,620.5 V603.5 M1016,620.5 V608.7 M1017,620.5 V579.1 M1018,620.5 V560.2 M1024,620.5 V603.6 M1025,620.5 V596.2 M1026,620.5 V600.6 M1028,620.5 V607.9 M1029,620.5 V611.0 M1031,620.5 V605.7 M1032,620.5 V607.9 M1033,620.5 V609.8 M1035,620.5 V582.7 M1036,620.5 V606.4 M1038,620.5 V533.6 M1039,620.5 V598.1 M1040,620.5 V577.3 M1042,620.5 V579.8 M1043,620.5 V571.5 M1049,620.5 V586.9 M1050,620.5 V598.6 M1052,620.5 V585.2 M1053,620.5 V613.1 M1055,620.5 V604.7 M1056,620.5 V577.3 M1057,620.5 V590.6 M1059,620.5 V568.5 M1060,620.5 V593.2 M1062,620.5 V578.2 M1063,620.5 V586.8 M1064,620.5 V583.8 M1065,620.5 V575.5 M1066,620.5 V571.9 M1067,620.5 V482.3 M1073,620.5 V589.3 M1074,620.5 V605.2 M1076,620.5 V577.8 M1077,620.5 V604.6 M1079,620.5 V592.1 M1080,620.5 V567.6 M1081,620.5 V597.4 M1083,620.5 V594.5 M1084,620.5 V560.2 M1086,620.5 V532.8 M1087,620.5 V505.5 M1088,620.5 V591.1 M1089,620.5 V552.1 M1090,620.5 V561.8 M1091,620.5 V584.1 M1092,620.5 V568.3 M1098,620.5 V518.3 M1100,620.5 V580.9 M1101,620.5 V566.5 M1103,620.5 V593.7 M1104,620.5 V590.8 M1105,620.5 V598.9 M1107,620.5 V571.8 M1108,620.5 V601.9 M1110,620.5 V576.4 M1111,620.5 V600.4 M1112,620.5 V602.4 M1113,620.5 V584.5 M1114,620.5 V586.9 M1115,620.5 V576.5 M1116,620.5 V575.5 M1117,620.5 V596.9 M1121,620.5 V588.1" stroke="#c0c0c0" stroke-width="1" fill="none" shape-rendering="crispEdges"/></g>
<rect x="86.5" y="471.5" width="1085.0" height="149.0" fill="none" stroke="#000" stroke-width="1.1"/>
<text x="67.6" y="624.8" font-size="13.00" textLength="8.2" lengthAdjust="spacingAndGlyphs">0</text>
<text x="26.6" y="588.8" font-size="13.00" textLength="49.2" lengthAdjust="spacingAndGlyphs">200000</text>
<text x="26.6" y="552.8" font-size="13.00" textLength="49.2" lengthAdjust="spacingAndGlyphs">400000</text>
<text x="26.6" y="516.8" font-size="13.00" textLength="49.2" lengthAdjust="spacingAndGlyphs">600000</text>
<text x="26.6" y="480.8" font-size="13.00" textLength="49.2" lengthAdjust="spacingAndGlyphs">800000</text>
<text x="187.3" y="638.9" font-size="13.00" textLength="52.4" lengthAdjust="spacingAndGlyphs">2021-01</text>
<text x="366.3" y="638.9" font-size="13.00" textLength="52.4" lengthAdjust="spacingAndGlyphs">2022-01</text>
<text x="545.3" y="638.9" font-size="13.00" textLength="52.4" lengthAdjust="spacingAndGlyphs">2023-01</text>
<text x="724.3" y="638.9" font-size="13.00" textLength="52.4" lengthAdjust="spacingAndGlyphs">2024-01</text>
<text x="903.3" y="638.9" font-size="13.00" textLength="52.4" lengthAdjust="spacingAndGlyphs">2025-01</text>
<text x="1082.3" y="638.9" font-size="13.00" textLength="52.4" lengthAdjust="spacingAndGlyphs">2026-01</text>
<text transform="translate(17.5,547.1) rotate(-90)" font-size="13.0" text-anchor="middle" textLength="44" lengthAdjust="spacingAndGlyphs">Volume</text>
<text x="85.8" y="675.7" font-size="15.60" textLength="39.4" lengthAdjust="spacingAndGlyphs" class="l">SOXX</text>
<text x="130.3" y="676.2" font-size="16.40" font-weight="350">交易次数</text>
<text x="196.6" y="675.7" font-size="15.60" textLength="3.9" lengthAdjust="spacingAndGlyphs" class="l">:</text>
<text x="206.5" y="675.7" font-size="15.60" textLength="10.5" lengthAdjust="spacingAndGlyphs" class="l">5</text>
<text x="86.2" y="696.5" font-size="16.40" font-weight="350">策略总收益率</text>
<text x="186.6" y="696.0" font-size="15.60" textLength="3.9" lengthAdjust="spacingAndGlyphs" class="l">:</text>
<text x="196.2" y="696.0" font-size="15.60" textLength="66.2" lengthAdjust="spacingAndGlyphs" class="l">273.97%</text>
<text x="86.2" y="716.2" font-size="16.40" font-weight="350">长期持有收益</text>
<text x="186.6" y="715.7" font-size="15.60" textLength="3.9" lengthAdjust="spacingAndGlyphs" class="l">:</text>
<text x="196.2" y="715.7" font-size="15.60" textLength="66.2" lengthAdjust="spacingAndGlyphs" class="l">268.60%</text>
<text x="86.2" y="735.5" font-size="16.40" font-weight="350">交易记录</text>
<text x="151.9" y="735.0" font-size="15.60" textLength="3.9" lengthAdjust="spacingAndGlyphs" class="l">:</text>
<text x="95.9" y="751.5" font-size="15.60" textLength="65.3" lengthAdjust="spacingAndGlyphs" class="l">Buy Date</text>
<text x="171.5" y="751.5" font-size="15.60" textLength="66.9" lengthAdjust="spacingAndGlyphs" class="l">Buy Price</text>
<text x="248.6" y="751.5" font-size="15.60" textLength="66.3" lengthAdjust="spacingAndGlyphs" class="l">Sell Date</text>
<text x="325.4" y="751.5" font-size="15.60" textLength="67.0" lengthAdjust="spacingAndGlyphs" class="l">Sell Price</text>
<text x="403.2" y="751.5" font-size="15.60" textLength="94.8" lengthAdjust="spacingAndGlyphs" class="l">Holding Days</text>
<text x="507.9" y="751.5" font-size="15.60" textLength="54.7" lengthAdjust="spacingAndGlyphs" class="l">Profit %</text>
<text x="86.0" y="769.9" font-size="15.60" textLength="90.0" lengthAdjust="spacingAndGlyphs" class="l">2020-10-28</text>
<text x="205.0" y="769.9" font-size="15.60" textLength="46.6" lengthAdjust="spacingAndGlyphs" class="l">97.22</text>
<text x="255.3" y="769.9" font-size="15.60" textLength="89.2" lengthAdjust="spacingAndGlyphs" class="l">2021-01-27</text>
<text x="375.2" y="769.9" font-size="15.60" textLength="55.3" lengthAdjust="spacingAndGlyphs" class="l">124.82</text>
<text x="490.2" y="769.9" font-size="15.60" textLength="19.7" lengthAdjust="spacingAndGlyphs" class="l">91</text>
<text x="535.3" y="769.9" font-size="15.60" textLength="44.7" lengthAdjust="spacingAndGlyphs" class="l">28.39</text>
<text x="86.0" y="786.9" font-size="15.60" textLength="90.0" lengthAdjust="spacingAndGlyphs" class="l">2021-03-03</text>
<text x="200.6" y="786.9" font-size="15.60" textLength="55.4" lengthAdjust="spacingAndGlyphs" class="l">129.71</text>
<text x="260.8" y="786.9" font-size="15.60" textLength="89.2" lengthAdjust="spacingAndGlyphs" class="l">2021-12-13</text>
<text x="380.3" y="786.9" font-size="15.60" textLength="54.8" lengthAdjust="spacingAndGlyphs" class="l">168.86</text>
<text x="490.2" y="786.9" font-size="15.60" textLength="29.7" lengthAdjust="spacingAndGlyphs" class="l">285</text>
<text x="545.4" y="786.9" font-size="15.60" textLength="44.7" lengthAdjust="spacingAndGlyphs" class="l">30.18</text>
<text x="86.0" y="804.0" font-size="15.60" textLength="90.0" lengthAdjust="spacingAndGlyphs" class="l">2022-01-07</text>
<text x="200.6" y="804.0" font-size="15.60" textLength="55.4" lengthAdjust="spacingAndGlyphs" class="l">168.19</text>
<text x="260.8" y="804.0" font-size="15.60" textLength="89.2" lengthAdjust="spacingAndGlyphs" class="l">2024-03-19</text>
<text x="380.3" y="804.0" font-size="15.60" textLength="54.8" lengthAdjust="spacingAndGlyphs" class="l">213.92</text>
<text x="490.2" y="804.0" font-size="15.60" textLength="29.7" lengthAdjust="spacingAndGlyphs" class="l">801</text>
<text x="545.4" y="804.0" font-size="15.60" textLength="44.7" lengthAdjust="spacingAndGlyphs" class="l">27.19</text>
<text x="86.0" y="821.6" font-size="15.60" textLength="90.0" lengthAdjust="spacingAndGlyphs" class="l">2024-04-15</text>
<text x="200.6" y="821.6" font-size="15.60" textLength="55.4" lengthAdjust="spacingAndGlyphs" class="l">212.75</text>
<text x="260.8" y="821.6" font-size="15.60" textLength="89.2" lengthAdjust="spacingAndGlyphs" class="l">2025-11-13</text>
<text x="380.3" y="821.6" font-size="15.60" textLength="54.8" lengthAdjust="spacingAndGlyphs" class="l">288.86</text>
<text x="490.2" y="821.6" font-size="15.60" textLength="29.7" lengthAdjust="spacingAndGlyphs" class="l">577</text>
<text x="545.4" y="821.6" font-size="15.60" textLength="44.7" lengthAdjust="spacingAndGlyphs" class="l">35.77</text>
<text x="86.0" y="838.8" font-size="15.60" textLength="90.0" lengthAdjust="spacingAndGlyphs" class="l">2025-11-18</text>
<text x="200.6" y="838.8" font-size="15.60" textLength="55.4" lengthAdjust="spacingAndGlyphs" class="l">276.58</text>
<text x="260.8" y="838.8" font-size="15.60" textLength="89.2" lengthAdjust="spacingAndGlyphs" class="l">2026-01-28</text>
<text x="380.3" y="838.8" font-size="15.60" textLength="54.8" lengthAdjust="spacingAndGlyphs" class="l">358.36</text>
<text x="495.0" y="838.8" font-size="15.60" textLength="19.8" lengthAdjust="spacingAndGlyphs" class="l">71</text>
<text x="540.5" y="838.8" font-size="15.60" textLength="44.4" lengthAdjust="spacingAndGlyphs" class="l">29.57</text>
</svg></body></html>
